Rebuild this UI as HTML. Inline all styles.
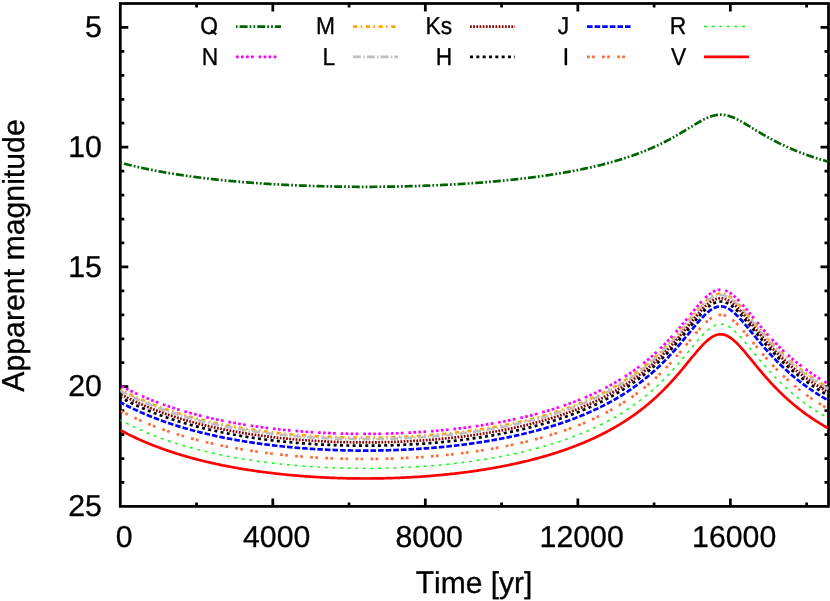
<!DOCTYPE html>
<html><head><meta charset="utf-8"><title>Apparent magnitude vs time</title>
<style>html,body{margin:0;padding:0;background:#fff;}body{width:830px;height:601px;overflow:hidden;}svg{display:block;will-change:transform;}text{text-rendering:geometricPrecision;}</style>
</head><body>
<svg width="830" height="601" viewBox="0 0 830 601">
<rect width="830" height="601" fill="#fff"/>
<g stroke="#000" stroke-width="2.75" fill="none" stroke-linecap="butt">
<rect x="120.30" y="3.50" width="708.20" height="502.90"/>
<path d="M120.30,27.40h8.00M828.50,27.40h-8.00M120.30,51.35h4.00M828.50,51.35h-4.00M120.30,75.30h4.00M828.50,75.30h-4.00M120.30,99.25h4.00M828.50,99.25h-4.00M120.30,123.20h4.00M828.50,123.20h-4.00M120.30,147.15h8.00M828.50,147.15h-8.00M120.30,171.10h4.00M828.50,171.10h-4.00M120.30,195.05h4.00M828.50,195.05h-4.00M120.30,219.00h4.00M828.50,219.00h-4.00M120.30,242.95h4.00M828.50,242.95h-4.00M120.30,266.90h8.00M828.50,266.90h-8.00M120.30,290.85h4.00M828.50,290.85h-4.00M120.30,314.80h4.00M828.50,314.80h-4.00M120.30,338.75h4.00M828.50,338.75h-4.00M120.30,362.70h4.00M828.50,362.70h-4.00M120.30,386.65h8.00M828.50,386.65h-8.00M120.30,410.60h4.00M828.50,410.60h-4.00M120.30,434.55h4.00M828.50,434.55h-4.00M120.30,458.50h4.00M828.50,458.50h-4.00M120.30,482.45h4.00M828.50,482.45h-4.00M196.56,506.40v-4.00M196.56,3.50v4.00M272.82,506.40v-8.00M272.82,3.50v8.00M349.07,506.40v-4.00M349.07,3.50v4.00M425.33,506.40v-8.00M425.33,3.50v8.00M501.59,506.40v-4.00M501.59,3.50v4.00M577.85,506.40v-8.00M577.85,3.50v8.00M654.11,506.40v-4.00M654.11,3.50v4.00M730.36,506.40v-8.00M730.36,3.50v8.00M806.62,506.40v-4.00M806.62,3.50v4.00"/>
</g>
<defs><clipPath id="c"><rect x="120.30" y="0" width="708.20" height="601"/></clipPath></defs>
<g fill="none" clip-path="url(#c)" stroke-linejoin="round">
<path d="M120.30,162.60 L121.31,162.87 L122.32,163.15 L123.34,163.41 L124.35,163.68 L125.36,163.94 L126.37,164.20 L127.38,164.46 L128.39,164.72 L129.41,164.97 L130.42,165.22 L131.43,165.47 L132.44,165.71 L133.45,165.96 L134.46,166.20 L135.48,166.43 L136.49,166.67 L137.50,166.90 L138.51,167.13 L139.52,167.36 L140.53,167.58 L141.55,167.81 L142.56,168.03 L143.57,168.25 L144.58,168.46 L145.59,168.68 L146.60,168.89 L147.62,169.10 L148.63,169.31 L149.64,169.52 L150.65,169.72 L151.66,169.92 L152.67,170.12 L153.69,170.32 L154.70,170.52 L155.71,170.71 L156.72,170.91 L157.73,171.10 L158.75,171.28 L159.76,171.47 L160.77,171.66 L161.78,171.84 L162.79,172.02 L163.80,172.20 L164.82,172.38 L165.83,172.56 L166.84,172.73 L167.85,172.90 L168.86,173.08 L169.87,173.25 L170.89,173.41 L171.90,173.58 L172.91,173.75 L173.92,173.91 L174.93,174.07 L175.94,174.23 L176.96,174.39 L177.97,174.55 L178.98,174.70 L179.99,174.86 L181.00,175.01 L182.01,175.16 L183.03,175.31 L184.04,175.46 L185.05,175.61 L186.06,175.76 L187.07,175.90 L188.08,176.04 L189.10,176.19 L190.11,176.33 L191.12,176.47 L192.13,176.60 L193.14,176.74 L194.16,176.87 L195.17,177.01 L196.18,177.14 L197.19,177.27 L198.20,177.40 L199.21,177.53 L200.23,177.66 L201.24,177.79 L202.25,177.91 L203.26,178.04 L204.27,178.16 L205.28,178.28 L206.30,178.40 L207.31,178.52 L208.32,178.64 L209.33,178.76 L210.34,178.87 L211.35,178.99 L212.37,179.10 L213.38,179.21 L214.39,179.33 L215.40,179.44 L216.41,179.55 L217.42,179.66 L218.44,179.76 L219.45,179.87 L220.46,179.97 L221.47,180.08 L222.48,180.18 L223.49,180.28 L224.51,180.39 L225.52,180.49 L226.53,180.59 L227.54,180.68 L228.55,180.78 L229.57,180.88 L230.58,180.97 L231.59,181.07 L232.60,181.16 L233.61,181.25 L234.62,181.35 L235.64,181.44 L236.65,181.53 L237.66,181.61 L238.67,181.70 L239.68,181.79 L240.69,181.88 L241.71,181.96 L242.72,182.05 L243.73,182.13 L244.74,182.21 L245.75,182.29 L246.76,182.37 L247.78,182.45 L248.79,182.53 L249.80,182.61 L250.81,182.69 L251.82,182.77 L252.83,182.84 L253.85,182.92 L254.86,182.99 L255.87,183.06 L256.88,183.14 L257.89,183.21 L258.90,183.28 L259.92,183.35 L260.93,183.42 L261.94,183.49 L262.95,183.55 L263.96,183.62 L264.98,183.69 L265.99,183.75 L267.00,183.82 L268.01,183.88 L269.02,183.94 L270.03,184.00 L271.05,184.07 L272.06,184.13 L273.07,184.19 L274.08,184.25 L275.09,184.30 L276.10,184.36 L277.12,184.42 L278.13,184.47 L279.14,184.53 L280.15,184.58 L281.16,184.64 L282.17,184.69 L283.19,184.74 L284.20,184.80 L285.21,184.85 L286.22,184.90 L287.23,184.95 L288.24,185.00 L289.26,185.04 L290.27,185.09 L291.28,185.14 L292.29,185.19 L293.30,185.23 L294.31,185.28 L295.33,185.32 L296.34,185.36 L297.35,185.41 L298.36,185.45 L299.37,185.49 L300.39,185.53 L301.40,185.57 L302.41,185.61 L303.42,185.65 L304.43,185.69 L305.44,185.72 L306.46,185.76 L307.47,185.80 L308.48,185.83 L309.49,185.87 L310.50,185.90 L311.51,185.93 L312.53,185.97 L313.54,186.00 L314.55,186.03 L315.56,186.06 L316.57,186.09 L317.58,186.12 L318.60,186.15 L319.61,186.18 L320.62,186.20 L321.63,186.23 L322.64,186.26 L323.65,186.28 L324.67,186.31 L325.68,186.33 L326.69,186.36 L327.70,186.38 L328.71,186.40 L329.72,186.42 L330.74,186.44 L331.75,186.46 L332.76,186.48 L333.77,186.50 L334.78,186.52 L335.80,186.54 L336.81,186.56 L337.82,186.57 L338.83,186.59 L339.84,186.61 L340.85,186.62 L341.87,186.64 L342.88,186.65 L343.89,186.66 L344.90,186.68 L345.91,186.69 L346.92,186.70 L347.94,186.71 L348.95,186.72 L349.96,186.73 L350.97,186.74 L351.98,186.75 L352.99,186.75 L354.01,186.76 L355.02,186.77 L356.03,186.77 L357.04,186.78 L358.05,186.78 L359.06,186.79 L360.08,186.79 L361.09,186.79 L362.10,186.79 L363.11,186.80 L364.12,186.80 L365.13,186.80 L366.15,186.80 L367.16,186.80 L368.17,186.79 L369.18,186.79 L370.19,186.79 L371.21,186.79 L372.22,186.78 L373.23,186.78 L374.24,186.77 L375.25,186.77 L376.26,186.76 L377.28,186.75 L378.29,186.74 L379.30,186.74 L380.31,186.73 L381.32,186.72 L382.33,186.71 L383.35,186.70 L384.36,186.69 L385.37,186.67 L386.38,186.66 L387.39,186.65 L388.40,186.63 L389.42,186.62 L390.43,186.61 L391.44,186.59 L392.45,186.57 L393.46,186.56 L394.47,186.54 L395.49,186.52 L396.50,186.50 L397.51,186.48 L398.52,186.46 L399.53,186.44 L400.54,186.42 L401.56,186.40 L402.57,186.38 L403.58,186.35 L404.59,186.33 L405.60,186.31 L406.62,186.28 L407.63,186.25 L408.64,186.23 L409.65,186.20 L410.66,186.17 L411.67,186.15 L412.69,186.12 L413.70,186.09 L414.71,186.06 L415.72,186.03 L416.73,185.99 L417.74,185.96 L418.76,185.93 L419.77,185.90 L420.78,185.86 L421.79,185.83 L422.80,185.79 L423.81,185.76 L424.83,185.72 L425.84,185.68 L426.85,185.64 L427.86,185.61 L428.87,185.57 L429.88,185.53 L430.90,185.49 L431.91,185.44 L432.92,185.40 L433.93,185.36 L434.94,185.32 L435.95,185.27 L436.97,185.23 L437.98,185.18 L438.99,185.13 L440.00,185.09 L441.01,185.04 L442.03,184.99 L443.04,184.94 L444.05,184.89 L445.06,184.84 L446.07,184.79 L447.08,184.74 L448.10,184.69 L449.11,184.63 L450.12,184.58 L451.13,184.53 L452.14,184.47 L453.15,184.41 L454.17,184.36 L455.18,184.30 L456.19,184.24 L457.20,184.18 L458.21,184.12 L459.22,184.06 L460.24,184.00 L461.25,183.94 L462.26,183.87 L463.27,183.81 L464.28,183.75 L465.29,183.68 L466.31,183.61 L467.32,183.55 L468.33,183.48 L469.34,183.41 L470.35,183.34 L471.36,183.27 L472.38,183.20 L473.39,183.13 L474.40,183.06 L475.41,182.98 L476.42,182.91 L477.44,182.83 L478.45,182.76 L479.46,182.68 L480.47,182.60 L481.48,182.53 L482.49,182.45 L483.51,182.37 L484.52,182.29 L485.53,182.20 L486.54,182.12 L487.55,182.04 L488.56,181.95 L489.58,181.87 L490.59,181.78 L491.60,181.69 L492.61,181.61 L493.62,181.52 L494.63,181.43 L495.65,181.34 L496.66,181.25 L497.67,181.15 L498.68,181.06 L499.69,180.96 L500.70,180.87 L501.72,180.77 L502.73,180.67 L503.74,180.58 L504.75,180.48 L505.76,180.38 L506.77,180.28 L507.79,180.17 L508.80,180.07 L509.81,179.96 L510.82,179.86 L511.83,179.75 L512.85,179.65 L513.86,179.54 L514.87,179.43 L515.88,179.32 L516.89,179.20 L517.90,179.09 L518.92,178.98 L519.93,178.86 L520.94,178.75 L521.95,178.63 L522.96,178.51 L523.97,178.39 L524.99,178.27 L526.00,178.15 L527.01,178.02 L528.02,177.90 L529.03,177.77 L530.04,177.65 L531.06,177.52 L532.07,177.39 L533.08,177.26 L534.09,177.13 L535.10,177.00 L536.11,176.86 L537.13,176.73 L538.14,176.59 L539.15,176.45 L540.16,176.31 L541.17,176.17 L542.18,176.03 L543.20,175.89 L544.21,175.74 L545.22,175.60 L546.23,175.45 L547.24,175.30 L548.26,175.15 L549.27,175.00 L550.28,174.84 L551.29,174.69 L552.30,174.53 L553.31,174.38 L554.33,174.22 L555.34,174.06 L556.35,173.89 L557.36,173.73 L558.37,173.57 L559.38,173.40 L560.40,173.23 L561.41,173.06 L562.42,172.89 L563.43,172.72 L564.44,172.54 L565.45,172.36 L566.47,172.19 L567.48,172.01 L568.49,171.82 L569.50,171.64 L570.51,171.45 L571.52,171.27 L572.54,171.08 L573.55,170.89 L574.56,170.69 L575.57,170.50 L576.58,170.30 L577.59,170.11 L578.61,169.90 L579.62,169.70 L580.63,169.50 L581.64,169.29 L582.65,169.08 L583.67,168.87 L584.68,168.66 L585.69,168.44 L586.70,168.23 L587.71,168.01 L588.72,167.79 L589.74,167.56 L590.75,167.34 L591.76,167.11 L592.77,166.88 L593.78,166.65 L594.79,166.41 L595.81,166.17 L596.82,165.93 L597.83,165.69 L598.84,165.45 L599.85,165.20 L600.86,164.95 L601.88,164.69 L602.89,164.44 L603.90,164.18 L604.91,163.92 L605.92,163.66 L606.93,163.39 L607.95,163.12 L608.96,162.85 L609.97,162.57 L610.98,162.30 L611.99,162.01 L613.00,161.73 L614.02,161.44 L615.03,161.15 L616.04,160.86 L617.05,160.56 L618.06,160.26 L619.08,159.96 L620.09,159.65 L621.10,159.34 L622.11,159.03 L623.12,158.71 L624.13,158.39 L625.15,158.07 L626.16,157.74 L627.17,157.41 L628.18,157.07 L629.19,156.73 L630.20,156.39 L631.22,156.04 L632.23,155.69 L633.24,155.34 L634.25,154.98 L635.26,154.61 L636.27,154.25 L637.29,153.87 L638.30,153.50 L639.31,153.12 L640.32,152.73 L641.33,152.34 L642.34,151.95 L643.36,151.55 L644.37,151.14 L645.38,150.74 L646.39,150.32 L647.40,149.90 L648.41,149.48 L649.43,149.05 L650.44,148.62 L651.45,148.18 L652.46,147.73 L653.47,147.29 L654.49,146.83 L655.50,146.37 L656.51,145.90 L657.52,145.43 L658.53,144.96 L659.54,144.47 L660.56,143.99 L661.57,143.49 L662.58,142.99 L663.59,142.49 L664.60,141.98 L665.61,141.46 L666.63,140.94 L667.64,140.41 L668.65,139.88 L669.66,139.34 L670.67,138.79 L671.68,138.24 L672.70,137.68 L673.71,137.12 L674.72,136.55 L675.73,135.98 L676.74,135.40 L677.75,134.82 L678.77,134.23 L679.78,133.63 L680.79,133.04 L681.80,132.44 L682.81,131.83 L683.82,131.22 L684.84,130.61 L685.85,130.00 L686.86,129.38 L687.87,128.76 L688.88,128.14 L689.90,127.52 L690.91,126.91 L691.92,126.29 L692.93,125.67 L693.94,125.06 L694.95,124.45 L695.97,123.85 L696.98,123.25 L697.99,122.66 L699.00,122.08 L700.01,121.51 L701.02,120.95 L702.04,120.40 L703.05,119.87 L704.06,119.35 L705.07,118.86 L706.08,118.38 L707.09,117.92 L708.11,117.49 L709.12,117.08 L710.13,116.70 L711.14,116.35 L712.15,116.03 L713.16,115.74 L714.18,115.48 L715.19,115.26 L716.20,115.07 L717.21,114.92 L718.22,114.81 L719.23,114.74 L720.25,114.70 L721.26,114.71 L722.27,114.75 L723.28,114.83 L724.29,114.95 L725.31,115.11 L726.32,115.30 L727.33,115.53 L728.34,115.80 L729.35,116.10 L730.36,116.42 L731.38,116.78 L732.39,117.17 L733.40,117.58 L734.41,118.02 L735.42,118.48 L736.43,118.96 L737.45,119.47 L738.46,119.99 L739.47,120.52 L740.48,121.07 L741.49,121.63 L742.50,122.21 L743.52,122.79 L744.53,123.38 L745.54,123.98 L746.55,124.59 L747.56,125.20 L748.57,125.81 L749.59,126.42 L750.60,127.04 L751.61,127.66 L752.62,128.28 L753.63,128.90 L754.64,129.52 L755.66,130.13 L756.67,130.75 L757.68,131.36 L758.69,131.96 L759.70,132.57 L760.72,133.17 L761.73,133.77 L762.74,134.36 L763.75,134.94 L764.76,135.53 L765.77,136.10 L766.79,136.68 L767.80,137.24 L768.81,137.80 L769.82,138.36 L770.83,138.91 L771.84,139.45 L772.86,139.99 L773.87,140.53 L774.88,141.05 L775.89,141.57 L776.90,142.09 L777.91,142.60 L778.93,143.10 L779.94,143.60 L780.95,144.09 L781.96,144.58 L782.97,145.06 L783.98,145.54 L785.00,146.01 L786.01,146.47 L787.02,146.93 L788.03,147.38 L789.04,147.83 L790.05,148.28 L791.07,148.71 L792.08,149.15 L793.09,149.57 L794.10,150.00 L795.11,150.41 L796.13,150.83 L797.14,151.23 L798.15,151.64 L799.16,152.03 L800.17,152.43 L801.18,152.82 L802.20,153.20 L803.21,153.58 L804.22,153.96 L805.23,154.33 L806.24,154.69 L807.25,155.06 L808.27,155.41 L809.28,155.77 L810.29,156.12 L811.30,156.47 L812.31,156.81 L813.32,157.15 L814.34,157.48 L815.35,157.81 L816.36,158.14 L817.37,158.46 L818.38,158.78 L819.39,159.10 L820.41,159.41 L821.42,159.72 L822.43,160.03 L823.44,160.33 L824.45,160.63 L825.46,160.92 L826.48,161.22 L827.49,161.51 L828.50,161.79" stroke="#006400" stroke-width="2.7" stroke-dasharray="8.0 2.05 1.75 2.05 1.75 2.05" stroke-dashoffset="13.8"/>
<path d="M120.30,385.50 L121.31,386.05 L122.32,386.59 L123.34,387.13 L124.35,387.66 L125.36,388.19 L126.37,388.71 L127.38,389.23 L128.39,389.74 L129.41,390.24 L130.42,390.74 L131.43,391.24 L132.44,391.73 L133.45,392.21 L134.46,392.69 L135.48,393.17 L136.49,393.64 L137.50,394.10 L138.51,394.56 L139.52,395.02 L140.53,395.47 L141.55,395.92 L142.56,396.36 L143.57,396.80 L144.58,397.23 L145.59,397.66 L146.60,398.08 L147.62,398.50 L148.63,398.92 L149.64,399.33 L150.65,399.74 L151.66,400.15 L152.67,400.55 L153.69,400.94 L154.70,401.34 L155.71,401.73 L156.72,402.11 L157.73,402.49 L158.75,402.87 L159.76,403.24 L160.77,403.61 L161.78,403.98 L162.79,404.34 L163.80,404.70 L164.82,405.06 L165.83,405.41 L166.84,405.76 L167.85,406.11 L168.86,406.45 L169.87,406.79 L170.89,407.13 L171.90,407.46 L172.91,407.79 L173.92,408.12 L174.93,408.44 L175.94,408.76 L176.96,409.08 L177.97,409.40 L178.98,409.71 L179.99,410.02 L181.00,410.32 L182.01,410.63 L183.03,410.93 L184.04,411.23 L185.05,411.52 L186.06,411.81 L187.07,412.10 L188.08,412.39 L189.10,412.67 L190.11,412.95 L191.12,413.23 L192.13,413.51 L193.14,413.78 L194.16,414.05 L195.17,414.32 L196.18,414.58 L197.19,414.85 L198.20,415.11 L199.21,415.36 L200.23,415.62 L201.24,415.87 L202.25,416.12 L203.26,416.37 L204.27,416.62 L205.28,416.86 L206.30,417.10 L207.31,417.34 L208.32,417.58 L209.33,417.81 L210.34,418.05 L211.35,418.28 L212.37,418.50 L213.38,418.73 L214.39,418.95 L215.40,419.17 L216.41,419.39 L217.42,419.61 L218.44,419.83 L219.45,420.04 L220.46,420.25 L221.47,420.46 L222.48,420.66 L223.49,420.87 L224.51,421.07 L225.52,421.27 L226.53,421.47 L227.54,421.67 L228.55,421.86 L229.57,422.06 L230.58,422.25 L231.59,422.44 L232.60,422.62 L233.61,422.81 L234.62,422.99 L235.64,423.17 L236.65,423.35 L237.66,423.53 L238.67,423.71 L239.68,423.88 L240.69,424.05 L241.71,424.22 L242.72,424.39 L243.73,424.56 L244.74,424.72 L245.75,424.89 L246.76,425.05 L247.78,425.21 L248.79,425.37 L249.80,425.52 L250.81,425.68 L251.82,425.83 L252.83,425.98 L253.85,426.13 L254.86,426.28 L255.87,426.43 L256.88,426.57 L257.89,426.71 L258.90,426.86 L259.92,427.00 L260.93,427.13 L261.94,427.27 L262.95,427.41 L263.96,427.54 L264.98,427.67 L265.99,427.80 L267.00,427.93 L268.01,428.06 L269.02,428.18 L270.03,428.31 L271.05,428.43 L272.06,428.55 L273.07,428.67 L274.08,428.79 L275.09,428.91 L276.10,429.02 L277.12,429.14 L278.13,429.25 L279.14,429.36 L280.15,429.47 L281.16,429.58 L282.17,429.68 L283.19,429.79 L284.20,429.89 L285.21,430.00 L286.22,430.10 L287.23,430.20 L288.24,430.29 L289.26,430.39 L290.27,430.48 L291.28,430.58 L292.29,430.67 L293.30,430.76 L294.31,430.85 L295.33,430.94 L296.34,431.03 L297.35,431.11 L298.36,431.20 L299.37,431.28 L300.39,431.36 L301.40,431.44 L302.41,431.52 L303.42,431.60 L304.43,431.67 L305.44,431.75 L306.46,431.82 L307.47,431.89 L308.48,431.96 L309.49,432.03 L310.50,432.10 L311.51,432.17 L312.53,432.23 L313.54,432.30 L314.55,432.36 L315.56,432.42 L316.57,432.48 L317.58,432.54 L318.60,432.60 L319.61,432.65 L320.62,432.71 L321.63,432.76 L322.64,432.81 L323.65,432.87 L324.67,432.91 L325.68,432.96 L326.69,433.01 L327.70,433.06 L328.71,433.10 L329.72,433.15 L330.74,433.19 L331.75,433.23 L332.76,433.27 L333.77,433.31 L334.78,433.35 L335.80,433.38 L336.81,433.42 L337.82,433.45 L338.83,433.48 L339.84,433.51 L340.85,433.54 L341.87,433.57 L342.88,433.60 L343.89,433.63 L344.90,433.65 L345.91,433.67 L346.92,433.70 L347.94,433.72 L348.95,433.74 L349.96,433.76 L350.97,433.77 L351.98,433.79 L352.99,433.81 L354.01,433.82 L355.02,433.83 L356.03,433.84 L357.04,433.85 L358.05,433.86 L359.06,433.87 L360.08,433.88 L361.09,433.88 L362.10,433.89 L363.11,433.89 L364.12,433.89 L365.13,433.89 L366.15,433.89 L367.16,433.89 L368.17,433.89 L369.18,433.88 L370.19,433.88 L371.21,433.87 L372.22,433.86 L373.23,433.85 L374.24,433.84 L375.25,433.83 L376.26,433.82 L377.28,433.80 L378.29,433.79 L379.30,433.77 L380.31,433.76 L381.32,433.74 L382.33,433.72 L383.35,433.69 L384.36,433.67 L385.37,433.65 L386.38,433.62 L387.39,433.60 L388.40,433.57 L389.42,433.54 L390.43,433.51 L391.44,433.48 L392.45,433.45 L393.46,433.41 L394.47,433.38 L395.49,433.34 L396.50,433.30 L397.51,433.27 L398.52,433.23 L399.53,433.18 L400.54,433.14 L401.56,433.10 L402.57,433.05 L403.58,433.01 L404.59,432.96 L405.60,432.91 L406.62,432.86 L407.63,432.81 L408.64,432.76 L409.65,432.70 L410.66,432.65 L411.67,432.59 L412.69,432.53 L413.70,432.47 L414.71,432.41 L415.72,432.35 L416.73,432.29 L417.74,432.23 L418.76,432.16 L419.77,432.09 L420.78,432.02 L421.79,431.96 L422.80,431.88 L423.81,431.81 L424.83,431.74 L425.84,431.66 L426.85,431.59 L427.86,431.51 L428.87,431.43 L429.88,431.35 L430.90,431.27 L431.91,431.19 L432.92,431.10 L433.93,431.02 L434.94,430.93 L435.95,430.84 L436.97,430.75 L437.98,430.66 L438.99,430.57 L440.00,430.48 L441.01,430.38 L442.03,430.28 L443.04,430.19 L444.05,430.09 L445.06,429.99 L446.07,429.88 L447.08,429.78 L448.10,429.67 L449.11,429.57 L450.12,429.46 L451.13,429.35 L452.14,429.24 L453.15,429.13 L454.17,429.01 L455.18,428.90 L456.19,428.78 L457.20,428.66 L458.21,428.54 L459.22,428.42 L460.24,428.30 L461.25,428.17 L462.26,428.05 L463.27,427.92 L464.28,427.79 L465.29,427.66 L466.31,427.53 L467.32,427.39 L468.33,427.26 L469.34,427.12 L470.35,426.98 L471.36,426.84 L472.38,426.70 L473.39,426.56 L474.40,426.41 L475.41,426.27 L476.42,426.12 L477.44,425.97 L478.45,425.82 L479.46,425.66 L480.47,425.51 L481.48,425.35 L482.49,425.19 L483.51,425.03 L484.52,424.87 L485.53,424.71 L486.54,424.54 L487.55,424.38 L488.56,424.21 L489.58,424.04 L490.59,423.86 L491.60,423.69 L492.61,423.51 L493.62,423.34 L494.63,423.16 L495.65,422.97 L496.66,422.79 L497.67,422.60 L498.68,422.42 L499.69,422.23 L500.70,422.04 L501.72,421.84 L502.73,421.65 L503.74,421.45 L504.75,421.25 L505.76,421.05 L506.77,420.85 L507.79,420.65 L508.80,420.44 L509.81,420.23 L510.82,420.02 L511.83,419.81 L512.85,419.59 L513.86,419.37 L514.87,419.15 L515.88,418.93 L516.89,418.71 L517.90,418.48 L518.92,418.25 L519.93,418.02 L520.94,417.79 L521.95,417.56 L522.96,417.32 L523.97,417.08 L524.99,416.84 L526.00,416.60 L527.01,416.35 L528.02,416.10 L529.03,415.85 L530.04,415.60 L531.06,415.34 L532.07,415.08 L533.08,414.82 L534.09,414.56 L535.10,414.29 L536.11,414.02 L537.13,413.75 L538.14,413.48 L539.15,413.20 L540.16,412.93 L541.17,412.64 L542.18,412.36 L543.20,412.07 L544.21,411.78 L545.22,411.49 L546.23,411.20 L547.24,410.90 L548.26,410.60 L549.27,410.30 L550.28,409.99 L551.29,409.68 L552.30,409.37 L553.31,409.05 L554.33,408.74 L555.34,408.41 L556.35,408.09 L557.36,407.76 L558.37,407.43 L559.38,407.10 L560.40,406.76 L561.41,406.42 L562.42,406.08 L563.43,405.73 L564.44,405.38 L565.45,405.03 L566.47,404.67 L567.48,404.31 L568.49,403.95 L569.50,403.58 L570.51,403.21 L571.52,402.83 L572.54,402.46 L573.55,402.07 L574.56,401.69 L575.57,401.30 L576.58,400.91 L577.59,400.51 L578.61,400.11 L579.62,399.70 L580.63,399.30 L581.64,398.88 L582.65,398.47 L583.67,398.04 L584.68,397.62 L585.69,397.19 L586.70,396.76 L587.71,396.32 L588.72,395.87 L589.74,395.43 L590.75,394.98 L591.76,394.52 L592.77,394.06 L593.78,393.59 L594.79,393.12 L595.81,392.65 L596.82,392.17 L597.83,391.68 L598.84,391.19 L599.85,390.70 L600.86,390.19 L601.88,389.69 L602.89,389.18 L603.90,388.66 L604.91,388.14 L605.92,387.61 L606.93,387.08 L607.95,386.54 L608.96,386.00 L609.97,385.45 L610.98,384.89 L611.99,384.33 L613.00,383.76 L614.02,383.19 L615.03,382.60 L616.04,382.02 L617.05,381.42 L618.06,380.82 L619.08,380.22 L620.09,379.60 L621.10,378.98 L622.11,378.36 L623.12,377.72 L624.13,377.08 L625.15,376.43 L626.16,375.78 L627.17,375.11 L628.18,374.44 L629.19,373.76 L630.20,373.08 L631.22,372.38 L632.23,371.68 L633.24,370.97 L634.25,370.25 L635.26,369.53 L636.27,368.79 L637.29,368.05 L638.30,367.29 L639.31,366.53 L640.32,365.76 L641.33,364.98 L642.34,364.19 L643.36,363.40 L644.37,362.59 L645.38,361.77 L646.39,360.94 L647.40,360.11 L648.41,359.26 L649.43,358.40 L650.44,357.54 L651.45,356.66 L652.46,355.77 L653.47,354.87 L654.49,353.96 L655.50,353.04 L656.51,352.11 L657.52,351.17 L658.53,350.21 L659.54,349.25 L660.56,348.27 L661.57,347.29 L662.58,346.29 L663.59,345.28 L664.60,344.25 L665.61,343.22 L666.63,342.18 L667.64,341.12 L668.65,340.05 L669.66,338.97 L670.67,337.88 L671.68,336.78 L672.70,335.66 L673.71,334.54 L674.72,333.40 L675.73,332.26 L676.74,331.10 L677.75,329.93 L678.77,328.76 L679.78,327.57 L680.79,326.38 L681.80,325.17 L682.81,323.96 L683.82,322.75 L684.84,321.52 L685.85,320.29 L686.86,319.06 L687.87,317.83 L688.88,316.59 L689.90,315.35 L690.91,314.11 L691.92,312.88 L692.93,311.65 L693.94,310.42 L694.95,309.20 L695.97,308.00 L696.98,306.80 L697.99,305.62 L699.00,304.46 L700.01,303.32 L701.02,302.20 L702.04,301.10 L703.05,300.04 L704.06,299.01 L705.07,298.01 L706.08,297.06 L707.09,296.14 L708.11,295.28 L709.12,294.46 L710.13,293.70 L711.14,293.00 L712.15,292.35 L713.16,291.77 L714.18,291.26 L715.19,290.82 L716.20,290.44 L717.21,290.15 L718.22,289.92 L719.23,289.78 L720.25,289.71 L721.26,289.71 L722.27,289.80 L723.28,289.96 L724.29,290.20 L725.31,290.52 L726.32,290.91 L727.33,291.37 L728.34,291.90 L729.35,292.49 L730.36,293.15 L731.38,293.86 L732.39,294.64 L733.40,295.47 L734.41,296.34 L735.42,297.26 L736.43,298.23 L737.45,299.23 L738.46,300.27 L739.47,301.34 L740.48,302.44 L741.49,303.57 L742.50,304.71 L743.52,305.88 L744.53,307.06 L745.54,308.26 L746.55,309.47 L747.56,310.69 L748.57,311.92 L749.59,313.15 L750.60,314.38 L751.61,315.62 L752.62,316.86 L753.63,318.10 L754.64,319.33 L755.66,320.56 L756.67,321.79 L757.68,323.01 L758.69,324.23 L759.70,325.44 L760.72,326.64 L761.73,327.83 L762.74,329.02 L763.75,330.19 L764.76,331.35 L765.77,332.51 L766.79,333.65 L767.80,334.79 L768.81,335.91 L769.82,337.02 L770.83,338.12 L771.84,339.21 L772.86,340.29 L773.87,341.35 L774.88,342.41 L775.89,343.45 L776.90,344.48 L777.91,345.50 L778.93,346.51 L779.94,347.50 L780.95,348.49 L781.96,349.46 L782.97,350.42 L783.98,351.38 L785.00,352.32 L786.01,353.24 L787.02,354.16 L788.03,355.07 L789.04,355.97 L790.05,356.85 L791.07,357.73 L792.08,358.59 L793.09,359.45 L794.10,360.29 L795.11,361.13 L796.13,361.95 L797.14,362.77 L798.15,363.57 L799.16,364.37 L800.17,365.16 L801.18,365.93 L802.20,366.70 L803.21,367.46 L804.22,368.21 L805.23,368.95 L806.24,369.69 L807.25,370.41 L808.27,371.13 L809.28,371.84 L810.29,372.54 L811.30,373.23 L812.31,373.91 L813.32,374.59 L814.34,375.26 L815.35,375.92 L816.36,376.58 L817.37,377.22 L818.38,377.86 L819.39,378.50 L820.41,379.12 L821.42,379.74 L822.43,380.35 L823.44,380.96 L824.45,381.56 L825.46,382.15 L826.48,382.73 L827.49,383.31 L828.50,383.89" stroke="#ff00ff" stroke-width="2.7" stroke-dasharray="2.7 2.3 2.7 2.3 2.7 2.3 2.7 4.9" stroke-dashoffset="21.15"/>
<path d="M120.30,389.30 L121.31,389.85 L122.32,390.39 L123.34,390.93 L124.35,391.46 L125.36,391.99 L126.37,392.51 L127.38,393.03 L128.39,393.54 L129.41,394.04 L130.42,394.54 L131.43,395.04 L132.44,395.53 L133.45,396.01 L134.46,396.49 L135.48,396.97 L136.49,397.44 L137.50,397.90 L138.51,398.36 L139.52,398.82 L140.53,399.27 L141.55,399.72 L142.56,400.16 L143.57,400.60 L144.58,401.03 L145.59,401.46 L146.60,401.88 L147.62,402.30 L148.63,402.72 L149.64,403.13 L150.65,403.54 L151.66,403.95 L152.67,404.35 L153.69,404.74 L154.70,405.14 L155.71,405.53 L156.72,405.91 L157.73,406.29 L158.75,406.67 L159.76,407.04 L160.77,407.41 L161.78,407.78 L162.79,408.14 L163.80,408.50 L164.82,408.86 L165.83,409.21 L166.84,409.56 L167.85,409.91 L168.86,410.25 L169.87,410.59 L170.89,410.93 L171.90,411.26 L172.91,411.59 L173.92,411.92 L174.93,412.24 L175.94,412.56 L176.96,412.88 L177.97,413.20 L178.98,413.51 L179.99,413.82 L181.00,414.12 L182.01,414.43 L183.03,414.73 L184.04,415.03 L185.05,415.32 L186.06,415.61 L187.07,415.90 L188.08,416.19 L189.10,416.47 L190.11,416.75 L191.12,417.03 L192.13,417.31 L193.14,417.58 L194.16,417.85 L195.17,418.12 L196.18,418.38 L197.19,418.65 L198.20,418.91 L199.21,419.16 L200.23,419.42 L201.24,419.67 L202.25,419.92 L203.26,420.17 L204.27,420.42 L205.28,420.66 L206.30,420.90 L207.31,421.14 L208.32,421.38 L209.33,421.61 L210.34,421.85 L211.35,422.08 L212.37,422.30 L213.38,422.53 L214.39,422.75 L215.40,422.97 L216.41,423.19 L217.42,423.41 L218.44,423.63 L219.45,423.84 L220.46,424.05 L221.47,424.26 L222.48,424.46 L223.49,424.67 L224.51,424.87 L225.52,425.07 L226.53,425.27 L227.54,425.47 L228.55,425.66 L229.57,425.86 L230.58,426.05 L231.59,426.24 L232.60,426.42 L233.61,426.61 L234.62,426.79 L235.64,426.97 L236.65,427.15 L237.66,427.33 L238.67,427.51 L239.68,427.68 L240.69,427.85 L241.71,428.02 L242.72,428.19 L243.73,428.36 L244.74,428.52 L245.75,428.69 L246.76,428.85 L247.78,429.01 L248.79,429.17 L249.80,429.32 L250.81,429.48 L251.82,429.63 L252.83,429.78 L253.85,429.93 L254.86,430.08 L255.87,430.23 L256.88,430.37 L257.89,430.51 L258.90,430.66 L259.92,430.80 L260.93,430.93 L261.94,431.07 L262.95,431.21 L263.96,431.34 L264.98,431.47 L265.99,431.60 L267.00,431.73 L268.01,431.86 L269.02,431.98 L270.03,432.11 L271.05,432.23 L272.06,432.35 L273.07,432.47 L274.08,432.59 L275.09,432.71 L276.10,432.82 L277.12,432.94 L278.13,433.05 L279.14,433.16 L280.15,433.27 L281.16,433.38 L282.17,433.48 L283.19,433.59 L284.20,433.69 L285.21,433.80 L286.22,433.90 L287.23,434.00 L288.24,434.09 L289.26,434.19 L290.27,434.28 L291.28,434.38 L292.29,434.47 L293.30,434.56 L294.31,434.65 L295.33,434.74 L296.34,434.83 L297.35,434.91 L298.36,435.00 L299.37,435.08 L300.39,435.16 L301.40,435.24 L302.41,435.32 L303.42,435.40 L304.43,435.47 L305.44,435.55 L306.46,435.62 L307.47,435.69 L308.48,435.76 L309.49,435.83 L310.50,435.90 L311.51,435.97 L312.53,436.03 L313.54,436.10 L314.55,436.16 L315.56,436.22 L316.57,436.28 L317.58,436.34 L318.60,436.40 L319.61,436.45 L320.62,436.51 L321.63,436.56 L322.64,436.61 L323.65,436.67 L324.67,436.71 L325.68,436.76 L326.69,436.81 L327.70,436.86 L328.71,436.90 L329.72,436.95 L330.74,436.99 L331.75,437.03 L332.76,437.07 L333.77,437.11 L334.78,437.15 L335.80,437.18 L336.81,437.22 L337.82,437.25 L338.83,437.28 L339.84,437.31 L340.85,437.34 L341.87,437.37 L342.88,437.40 L343.89,437.43 L344.90,437.45 L345.91,437.47 L346.92,437.50 L347.94,437.52 L348.95,437.54 L349.96,437.56 L350.97,437.57 L351.98,437.59 L352.99,437.61 L354.01,437.62 L355.02,437.63 L356.03,437.64 L357.04,437.65 L358.05,437.66 L359.06,437.67 L360.08,437.68 L361.09,437.68 L362.10,437.69 L363.11,437.69 L364.12,437.69 L365.13,437.69 L366.15,437.69 L367.16,437.69 L368.17,437.69 L369.18,437.68 L370.19,437.68 L371.21,437.67 L372.22,437.66 L373.23,437.65 L374.24,437.64 L375.25,437.63 L376.26,437.62 L377.28,437.60 L378.29,437.59 L379.30,437.57 L380.31,437.56 L381.32,437.54 L382.33,437.52 L383.35,437.49 L384.36,437.47 L385.37,437.45 L386.38,437.42 L387.39,437.40 L388.40,437.37 L389.42,437.34 L390.43,437.31 L391.44,437.28 L392.45,437.25 L393.46,437.21 L394.47,437.18 L395.49,437.14 L396.50,437.10 L397.51,437.07 L398.52,437.03 L399.53,436.98 L400.54,436.94 L401.56,436.90 L402.57,436.85 L403.58,436.81 L404.59,436.76 L405.60,436.71 L406.62,436.66 L407.63,436.61 L408.64,436.56 L409.65,436.50 L410.66,436.45 L411.67,436.39 L412.69,436.33 L413.70,436.27 L414.71,436.21 L415.72,436.15 L416.73,436.09 L417.74,436.03 L418.76,435.96 L419.77,435.89 L420.78,435.82 L421.79,435.76 L422.80,435.68 L423.81,435.61 L424.83,435.54 L425.84,435.46 L426.85,435.39 L427.86,435.31 L428.87,435.23 L429.88,435.15 L430.90,435.07 L431.91,434.99 L432.92,434.90 L433.93,434.82 L434.94,434.73 L435.95,434.64 L436.97,434.55 L437.98,434.46 L438.99,434.37 L440.00,434.28 L441.01,434.18 L442.03,434.08 L443.04,433.99 L444.05,433.89 L445.06,433.79 L446.07,433.68 L447.08,433.58 L448.10,433.47 L449.11,433.37 L450.12,433.26 L451.13,433.15 L452.14,433.04 L453.15,432.93 L454.17,432.81 L455.18,432.70 L456.19,432.58 L457.20,432.46 L458.21,432.34 L459.22,432.22 L460.24,432.10 L461.25,431.97 L462.26,431.85 L463.27,431.72 L464.28,431.59 L465.29,431.46 L466.31,431.33 L467.32,431.19 L468.33,431.06 L469.34,430.92 L470.35,430.78 L471.36,430.64 L472.38,430.50 L473.39,430.36 L474.40,430.21 L475.41,430.07 L476.42,429.92 L477.44,429.77 L478.45,429.62 L479.46,429.46 L480.47,429.31 L481.48,429.15 L482.49,428.99 L483.51,428.83 L484.52,428.67 L485.53,428.51 L486.54,428.34 L487.55,428.18 L488.56,428.01 L489.58,427.84 L490.59,427.66 L491.60,427.49 L492.61,427.31 L493.62,427.14 L494.63,426.96 L495.65,426.77 L496.66,426.59 L497.67,426.40 L498.68,426.22 L499.69,426.03 L500.70,425.84 L501.72,425.64 L502.73,425.45 L503.74,425.25 L504.75,425.05 L505.76,424.85 L506.77,424.65 L507.79,424.45 L508.80,424.24 L509.81,424.03 L510.82,423.82 L511.83,423.61 L512.85,423.39 L513.86,423.17 L514.87,422.95 L515.88,422.73 L516.89,422.51 L517.90,422.28 L518.92,422.05 L519.93,421.82 L520.94,421.59 L521.95,421.36 L522.96,421.12 L523.97,420.88 L524.99,420.64 L526.00,420.40 L527.01,420.15 L528.02,419.90 L529.03,419.65 L530.04,419.40 L531.06,419.14 L532.07,418.88 L533.08,418.62 L534.09,418.36 L535.10,418.09 L536.11,417.82 L537.13,417.55 L538.14,417.28 L539.15,417.00 L540.16,416.73 L541.17,416.44 L542.18,416.16 L543.20,415.87 L544.21,415.58 L545.22,415.29 L546.23,415.00 L547.24,414.70 L548.26,414.40 L549.27,414.10 L550.28,413.79 L551.29,413.48 L552.30,413.17 L553.31,412.85 L554.33,412.54 L555.34,412.21 L556.35,411.89 L557.36,411.56 L558.37,411.23 L559.38,410.90 L560.40,410.56 L561.41,410.22 L562.42,409.88 L563.43,409.53 L564.44,409.18 L565.45,408.83 L566.47,408.47 L567.48,408.11 L568.49,407.75 L569.50,407.38 L570.51,407.01 L571.52,406.63 L572.54,406.26 L573.55,405.87 L574.56,405.49 L575.57,405.10 L576.58,404.71 L577.59,404.31 L578.61,403.91 L579.62,403.50 L580.63,403.10 L581.64,402.68 L582.65,402.27 L583.67,401.84 L584.68,401.42 L585.69,400.99 L586.70,400.56 L587.71,400.12 L588.72,399.67 L589.74,399.23 L590.75,398.78 L591.76,398.32 L592.77,397.86 L593.78,397.39 L594.79,396.92 L595.81,396.45 L596.82,395.97 L597.83,395.48 L598.84,394.99 L599.85,394.50 L600.86,393.99 L601.88,393.49 L602.89,392.98 L603.90,392.46 L604.91,391.94 L605.92,391.41 L606.93,390.88 L607.95,390.34 L608.96,389.80 L609.97,389.25 L610.98,388.69 L611.99,388.13 L613.00,387.56 L614.02,386.99 L615.03,386.40 L616.04,385.82 L617.05,385.22 L618.06,384.62 L619.08,384.02 L620.09,383.40 L621.10,382.78 L622.11,382.16 L623.12,381.52 L624.13,380.88 L625.15,380.23 L626.16,379.58 L627.17,378.91 L628.18,378.24 L629.19,377.56 L630.20,376.88 L631.22,376.18 L632.23,375.48 L633.24,374.77 L634.25,374.05 L635.26,373.33 L636.27,372.59 L637.29,371.85 L638.30,371.09 L639.31,370.33 L640.32,369.56 L641.33,368.78 L642.34,367.99 L643.36,367.20 L644.37,366.39 L645.38,365.57 L646.39,364.74 L647.40,363.91 L648.41,363.06 L649.43,362.20 L650.44,361.34 L651.45,360.46 L652.46,359.57 L653.47,358.67 L654.49,357.76 L655.50,356.84 L656.51,355.91 L657.52,354.97 L658.53,354.01 L659.54,353.05 L660.56,352.07 L661.57,351.09 L662.58,350.09 L663.59,349.08 L664.60,348.05 L665.61,347.02 L666.63,345.98 L667.64,344.92 L668.65,343.85 L669.66,342.77 L670.67,341.68 L671.68,340.58 L672.70,339.46 L673.71,338.34 L674.72,337.20 L675.73,336.06 L676.74,334.90 L677.75,333.73 L678.77,332.56 L679.78,331.37 L680.79,330.18 L681.80,328.97 L682.81,327.76 L683.82,326.55 L684.84,325.32 L685.85,324.09 L686.86,322.86 L687.87,321.63 L688.88,320.39 L689.90,319.15 L690.91,317.91 L691.92,316.68 L692.93,315.45 L693.94,314.22 L694.95,313.00 L695.97,311.80 L696.98,310.60 L697.99,309.42 L699.00,308.26 L700.01,307.12 L701.02,306.00 L702.04,304.90 L703.05,303.84 L704.06,302.81 L705.07,301.81 L706.08,300.86 L707.09,299.94 L708.11,299.08 L709.12,298.26 L710.13,297.50 L711.14,296.80 L712.15,296.15 L713.16,295.57 L714.18,295.06 L715.19,294.62 L716.20,294.24 L717.21,293.95 L718.22,293.72 L719.23,293.58 L720.25,293.51 L721.26,293.51 L722.27,293.60 L723.28,293.76 L724.29,294.00 L725.31,294.32 L726.32,294.71 L727.33,295.17 L728.34,295.70 L729.35,296.29 L730.36,296.95 L731.38,297.66 L732.39,298.44 L733.40,299.27 L734.41,300.14 L735.42,301.06 L736.43,302.03 L737.45,303.03 L738.46,304.07 L739.47,305.14 L740.48,306.24 L741.49,307.37 L742.50,308.51 L743.52,309.68 L744.53,310.86 L745.54,312.06 L746.55,313.27 L747.56,314.49 L748.57,315.72 L749.59,316.95 L750.60,318.18 L751.61,319.42 L752.62,320.66 L753.63,321.90 L754.64,323.13 L755.66,324.36 L756.67,325.59 L757.68,326.81 L758.69,328.03 L759.70,329.24 L760.72,330.44 L761.73,331.63 L762.74,332.82 L763.75,333.99 L764.76,335.15 L765.77,336.31 L766.79,337.45 L767.80,338.59 L768.81,339.71 L769.82,340.82 L770.83,341.92 L771.84,343.01 L772.86,344.09 L773.87,345.15 L774.88,346.21 L775.89,347.25 L776.90,348.28 L777.91,349.30 L778.93,350.31 L779.94,351.30 L780.95,352.29 L781.96,353.26 L782.97,354.22 L783.98,355.18 L785.00,356.12 L786.01,357.04 L787.02,357.96 L788.03,358.87 L789.04,359.77 L790.05,360.65 L791.07,361.53 L792.08,362.39 L793.09,363.25 L794.10,364.09 L795.11,364.93 L796.13,365.75 L797.14,366.57 L798.15,367.37 L799.16,368.17 L800.17,368.96 L801.18,369.73 L802.20,370.50 L803.21,371.26 L804.22,372.01 L805.23,372.75 L806.24,373.49 L807.25,374.21 L808.27,374.93 L809.28,375.64 L810.29,376.34 L811.30,377.03 L812.31,377.71 L813.32,378.39 L814.34,379.06 L815.35,379.72 L816.36,380.38 L817.37,381.02 L818.38,381.66 L819.39,382.30 L820.41,382.92 L821.42,383.54 L822.43,384.15 L823.44,384.76 L824.45,385.36 L825.46,385.95 L826.48,386.53 L827.49,387.11 L828.50,387.69" stroke="#ffa500" stroke-width="2.7" stroke-dasharray="4.2 3.5 1.6 3.45" stroke-dashoffset="2.5"/>
<path d="M120.30,390.70 L121.31,391.25 L122.32,391.79 L123.34,392.33 L124.35,392.86 L125.36,393.39 L126.37,393.91 L127.38,394.43 L128.39,394.94 L129.41,395.44 L130.42,395.94 L131.43,396.44 L132.44,396.93 L133.45,397.41 L134.46,397.89 L135.48,398.37 L136.49,398.84 L137.50,399.30 L138.51,399.76 L139.52,400.22 L140.53,400.67 L141.55,401.12 L142.56,401.56 L143.57,402.00 L144.58,402.43 L145.59,402.86 L146.60,403.28 L147.62,403.70 L148.63,404.12 L149.64,404.53 L150.65,404.94 L151.66,405.35 L152.67,405.75 L153.69,406.14 L154.70,406.54 L155.71,406.93 L156.72,407.31 L157.73,407.69 L158.75,408.07 L159.76,408.44 L160.77,408.81 L161.78,409.18 L162.79,409.54 L163.80,409.90 L164.82,410.26 L165.83,410.61 L166.84,410.96 L167.85,411.31 L168.86,411.65 L169.87,411.99 L170.89,412.33 L171.90,412.66 L172.91,412.99 L173.92,413.32 L174.93,413.64 L175.94,413.96 L176.96,414.28 L177.97,414.60 L178.98,414.91 L179.99,415.22 L181.00,415.52 L182.01,415.83 L183.03,416.13 L184.04,416.43 L185.05,416.72 L186.06,417.01 L187.07,417.30 L188.08,417.59 L189.10,417.87 L190.11,418.15 L191.12,418.43 L192.13,418.71 L193.14,418.98 L194.16,419.25 L195.17,419.52 L196.18,419.78 L197.19,420.05 L198.20,420.31 L199.21,420.56 L200.23,420.82 L201.24,421.07 L202.25,421.32 L203.26,421.57 L204.27,421.82 L205.28,422.06 L206.30,422.30 L207.31,422.54 L208.32,422.78 L209.33,423.01 L210.34,423.25 L211.35,423.48 L212.37,423.70 L213.38,423.93 L214.39,424.15 L215.40,424.37 L216.41,424.59 L217.42,424.81 L218.44,425.03 L219.45,425.24 L220.46,425.45 L221.47,425.66 L222.48,425.86 L223.49,426.07 L224.51,426.27 L225.52,426.47 L226.53,426.67 L227.54,426.87 L228.55,427.06 L229.57,427.26 L230.58,427.45 L231.59,427.64 L232.60,427.82 L233.61,428.01 L234.62,428.19 L235.64,428.37 L236.65,428.55 L237.66,428.73 L238.67,428.91 L239.68,429.08 L240.69,429.25 L241.71,429.42 L242.72,429.59 L243.73,429.76 L244.74,429.92 L245.75,430.09 L246.76,430.25 L247.78,430.41 L248.79,430.57 L249.80,430.72 L250.81,430.88 L251.82,431.03 L252.83,431.18 L253.85,431.33 L254.86,431.48 L255.87,431.63 L256.88,431.77 L257.89,431.91 L258.90,432.06 L259.92,432.20 L260.93,432.33 L261.94,432.47 L262.95,432.61 L263.96,432.74 L264.98,432.87 L265.99,433.00 L267.00,433.13 L268.01,433.26 L269.02,433.38 L270.03,433.51 L271.05,433.63 L272.06,433.75 L273.07,433.87 L274.08,433.99 L275.09,434.11 L276.10,434.22 L277.12,434.34 L278.13,434.45 L279.14,434.56 L280.15,434.67 L281.16,434.78 L282.17,434.88 L283.19,434.99 L284.20,435.09 L285.21,435.20 L286.22,435.30 L287.23,435.40 L288.24,435.49 L289.26,435.59 L290.27,435.68 L291.28,435.78 L292.29,435.87 L293.30,435.96 L294.31,436.05 L295.33,436.14 L296.34,436.23 L297.35,436.31 L298.36,436.40 L299.37,436.48 L300.39,436.56 L301.40,436.64 L302.41,436.72 L303.42,436.80 L304.43,436.87 L305.44,436.95 L306.46,437.02 L307.47,437.09 L308.48,437.16 L309.49,437.23 L310.50,437.30 L311.51,437.37 L312.53,437.43 L313.54,437.50 L314.55,437.56 L315.56,437.62 L316.57,437.68 L317.58,437.74 L318.60,437.80 L319.61,437.85 L320.62,437.91 L321.63,437.96 L322.64,438.01 L323.65,438.07 L324.67,438.11 L325.68,438.16 L326.69,438.21 L327.70,438.26 L328.71,438.30 L329.72,438.35 L330.74,438.39 L331.75,438.43 L332.76,438.47 L333.77,438.51 L334.78,438.55 L335.80,438.58 L336.81,438.62 L337.82,438.65 L338.83,438.68 L339.84,438.71 L340.85,438.74 L341.87,438.77 L342.88,438.80 L343.89,438.83 L344.90,438.85 L345.91,438.87 L346.92,438.90 L347.94,438.92 L348.95,438.94 L349.96,438.96 L350.97,438.97 L351.98,438.99 L352.99,439.01 L354.01,439.02 L355.02,439.03 L356.03,439.04 L357.04,439.05 L358.05,439.06 L359.06,439.07 L360.08,439.08 L361.09,439.08 L362.10,439.09 L363.11,439.09 L364.12,439.09 L365.13,439.09 L366.15,439.09 L367.16,439.09 L368.17,439.09 L369.18,439.08 L370.19,439.08 L371.21,439.07 L372.22,439.06 L373.23,439.05 L374.24,439.04 L375.25,439.03 L376.26,439.02 L377.28,439.00 L378.29,438.99 L379.30,438.97 L380.31,438.96 L381.32,438.94 L382.33,438.92 L383.35,438.89 L384.36,438.87 L385.37,438.85 L386.38,438.82 L387.39,438.80 L388.40,438.77 L389.42,438.74 L390.43,438.71 L391.44,438.68 L392.45,438.65 L393.46,438.61 L394.47,438.58 L395.49,438.54 L396.50,438.50 L397.51,438.47 L398.52,438.43 L399.53,438.38 L400.54,438.34 L401.56,438.30 L402.57,438.25 L403.58,438.21 L404.59,438.16 L405.60,438.11 L406.62,438.06 L407.63,438.01 L408.64,437.96 L409.65,437.90 L410.66,437.85 L411.67,437.79 L412.69,437.73 L413.70,437.67 L414.71,437.61 L415.72,437.55 L416.73,437.49 L417.74,437.43 L418.76,437.36 L419.77,437.29 L420.78,437.22 L421.79,437.16 L422.80,437.08 L423.81,437.01 L424.83,436.94 L425.84,436.86 L426.85,436.79 L427.86,436.71 L428.87,436.63 L429.88,436.55 L430.90,436.47 L431.91,436.39 L432.92,436.30 L433.93,436.22 L434.94,436.13 L435.95,436.04 L436.97,435.95 L437.98,435.86 L438.99,435.77 L440.00,435.68 L441.01,435.58 L442.03,435.48 L443.04,435.39 L444.05,435.29 L445.06,435.19 L446.07,435.08 L447.08,434.98 L448.10,434.87 L449.11,434.77 L450.12,434.66 L451.13,434.55 L452.14,434.44 L453.15,434.33 L454.17,434.21 L455.18,434.10 L456.19,433.98 L457.20,433.86 L458.21,433.74 L459.22,433.62 L460.24,433.50 L461.25,433.37 L462.26,433.25 L463.27,433.12 L464.28,432.99 L465.29,432.86 L466.31,432.73 L467.32,432.59 L468.33,432.46 L469.34,432.32 L470.35,432.18 L471.36,432.04 L472.38,431.90 L473.39,431.76 L474.40,431.61 L475.41,431.47 L476.42,431.32 L477.44,431.17 L478.45,431.02 L479.46,430.86 L480.47,430.71 L481.48,430.55 L482.49,430.39 L483.51,430.23 L484.52,430.07 L485.53,429.91 L486.54,429.74 L487.55,429.58 L488.56,429.41 L489.58,429.24 L490.59,429.06 L491.60,428.89 L492.61,428.71 L493.62,428.54 L494.63,428.36 L495.65,428.17 L496.66,427.99 L497.67,427.80 L498.68,427.62 L499.69,427.43 L500.70,427.24 L501.72,427.04 L502.73,426.85 L503.74,426.65 L504.75,426.45 L505.76,426.25 L506.77,426.05 L507.79,425.85 L508.80,425.64 L509.81,425.43 L510.82,425.22 L511.83,425.01 L512.85,424.79 L513.86,424.57 L514.87,424.35 L515.88,424.13 L516.89,423.91 L517.90,423.68 L518.92,423.45 L519.93,423.22 L520.94,422.99 L521.95,422.76 L522.96,422.52 L523.97,422.28 L524.99,422.04 L526.00,421.80 L527.01,421.55 L528.02,421.30 L529.03,421.05 L530.04,420.80 L531.06,420.54 L532.07,420.28 L533.08,420.02 L534.09,419.76 L535.10,419.49 L536.11,419.22 L537.13,418.95 L538.14,418.68 L539.15,418.40 L540.16,418.13 L541.17,417.84 L542.18,417.56 L543.20,417.27 L544.21,416.98 L545.22,416.69 L546.23,416.40 L547.24,416.10 L548.26,415.80 L549.27,415.50 L550.28,415.19 L551.29,414.88 L552.30,414.57 L553.31,414.25 L554.33,413.94 L555.34,413.61 L556.35,413.29 L557.36,412.96 L558.37,412.63 L559.38,412.30 L560.40,411.96 L561.41,411.62 L562.42,411.28 L563.43,410.93 L564.44,410.58 L565.45,410.23 L566.47,409.87 L567.48,409.51 L568.49,409.15 L569.50,408.78 L570.51,408.41 L571.52,408.03 L572.54,407.66 L573.55,407.27 L574.56,406.89 L575.57,406.50 L576.58,406.11 L577.59,405.71 L578.61,405.31 L579.62,404.90 L580.63,404.50 L581.64,404.08 L582.65,403.67 L583.67,403.24 L584.68,402.82 L585.69,402.39 L586.70,401.96 L587.71,401.52 L588.72,401.07 L589.74,400.63 L590.75,400.18 L591.76,399.72 L592.77,399.26 L593.78,398.79 L594.79,398.32 L595.81,397.85 L596.82,397.37 L597.83,396.88 L598.84,396.39 L599.85,395.90 L600.86,395.39 L601.88,394.89 L602.89,394.38 L603.90,393.86 L604.91,393.34 L605.92,392.81 L606.93,392.28 L607.95,391.74 L608.96,391.20 L609.97,390.65 L610.98,390.09 L611.99,389.53 L613.00,388.96 L614.02,388.39 L615.03,387.80 L616.04,387.22 L617.05,386.62 L618.06,386.02 L619.08,385.42 L620.09,384.80 L621.10,384.18 L622.11,383.56 L623.12,382.92 L624.13,382.28 L625.15,381.63 L626.16,380.98 L627.17,380.31 L628.18,379.64 L629.19,378.96 L630.20,378.28 L631.22,377.58 L632.23,376.88 L633.24,376.17 L634.25,375.45 L635.26,374.73 L636.27,373.99 L637.29,373.25 L638.30,372.49 L639.31,371.73 L640.32,370.96 L641.33,370.18 L642.34,369.39 L643.36,368.60 L644.37,367.79 L645.38,366.97 L646.39,366.14 L647.40,365.31 L648.41,364.46 L649.43,363.60 L650.44,362.74 L651.45,361.86 L652.46,360.97 L653.47,360.07 L654.49,359.16 L655.50,358.24 L656.51,357.31 L657.52,356.37 L658.53,355.41 L659.54,354.45 L660.56,353.47 L661.57,352.49 L662.58,351.49 L663.59,350.48 L664.60,349.45 L665.61,348.42 L666.63,347.38 L667.64,346.32 L668.65,345.25 L669.66,344.17 L670.67,343.08 L671.68,341.98 L672.70,340.86 L673.71,339.74 L674.72,338.60 L675.73,337.46 L676.74,336.30 L677.75,335.13 L678.77,333.96 L679.78,332.77 L680.79,331.58 L681.80,330.37 L682.81,329.16 L683.82,327.95 L684.84,326.72 L685.85,325.49 L686.86,324.26 L687.87,323.03 L688.88,321.79 L689.90,320.55 L690.91,319.31 L691.92,318.08 L692.93,316.85 L693.94,315.62 L694.95,314.40 L695.97,313.20 L696.98,312.00 L697.99,310.82 L699.00,309.66 L700.01,308.52 L701.02,307.40 L702.04,306.30 L703.05,305.24 L704.06,304.21 L705.07,303.21 L706.08,302.26 L707.09,301.34 L708.11,300.48 L709.12,299.66 L710.13,298.90 L711.14,298.20 L712.15,297.55 L713.16,296.97 L714.18,296.46 L715.19,296.02 L716.20,295.64 L717.21,295.35 L718.22,295.12 L719.23,294.98 L720.25,294.91 L721.26,294.91 L722.27,295.00 L723.28,295.16 L724.29,295.40 L725.31,295.72 L726.32,296.11 L727.33,296.57 L728.34,297.10 L729.35,297.69 L730.36,298.35 L731.38,299.06 L732.39,299.84 L733.40,300.67 L734.41,301.54 L735.42,302.46 L736.43,303.43 L737.45,304.43 L738.46,305.47 L739.47,306.54 L740.48,307.64 L741.49,308.77 L742.50,309.91 L743.52,311.08 L744.53,312.26 L745.54,313.46 L746.55,314.67 L747.56,315.89 L748.57,317.12 L749.59,318.35 L750.60,319.58 L751.61,320.82 L752.62,322.06 L753.63,323.30 L754.64,324.53 L755.66,325.76 L756.67,326.99 L757.68,328.21 L758.69,329.43 L759.70,330.64 L760.72,331.84 L761.73,333.03 L762.74,334.22 L763.75,335.39 L764.76,336.55 L765.77,337.71 L766.79,338.85 L767.80,339.99 L768.81,341.11 L769.82,342.22 L770.83,343.32 L771.84,344.41 L772.86,345.49 L773.87,346.55 L774.88,347.61 L775.89,348.65 L776.90,349.68 L777.91,350.70 L778.93,351.71 L779.94,352.70 L780.95,353.69 L781.96,354.66 L782.97,355.62 L783.98,356.58 L785.00,357.52 L786.01,358.44 L787.02,359.36 L788.03,360.27 L789.04,361.17 L790.05,362.05 L791.07,362.93 L792.08,363.79 L793.09,364.65 L794.10,365.49 L795.11,366.33 L796.13,367.15 L797.14,367.97 L798.15,368.77 L799.16,369.57 L800.17,370.36 L801.18,371.13 L802.20,371.90 L803.21,372.66 L804.22,373.41 L805.23,374.15 L806.24,374.89 L807.25,375.61 L808.27,376.33 L809.28,377.04 L810.29,377.74 L811.30,378.43 L812.31,379.11 L813.32,379.79 L814.34,380.46 L815.35,381.12 L816.36,381.78 L817.37,382.42 L818.38,383.06 L819.39,383.70 L820.41,384.32 L821.42,384.94 L822.43,385.55 L823.44,386.16 L824.45,386.76 L825.46,387.35 L826.48,387.93 L827.49,388.51 L828.50,389.09" stroke="#bebebe" stroke-width="2.7" stroke-dasharray="7.95 2.3 1.4 2.2" stroke-dashoffset="0"/>
<path d="M120.30,394.00 L121.31,394.55 L122.32,395.09 L123.34,395.63 L124.35,396.16 L125.36,396.69 L126.37,397.21 L127.38,397.73 L128.39,398.24 L129.41,398.74 L130.42,399.24 L131.43,399.74 L132.44,400.23 L133.45,400.71 L134.46,401.19 L135.48,401.67 L136.49,402.14 L137.50,402.60 L138.51,403.06 L139.52,403.52 L140.53,403.97 L141.55,404.42 L142.56,404.86 L143.57,405.30 L144.58,405.73 L145.59,406.16 L146.60,406.58 L147.62,407.00 L148.63,407.42 L149.64,407.83 L150.65,408.24 L151.66,408.65 L152.67,409.05 L153.69,409.44 L154.70,409.84 L155.71,410.23 L156.72,410.61 L157.73,410.99 L158.75,411.37 L159.76,411.74 L160.77,412.11 L161.78,412.48 L162.79,412.84 L163.80,413.20 L164.82,413.56 L165.83,413.91 L166.84,414.26 L167.85,414.61 L168.86,414.95 L169.87,415.29 L170.89,415.63 L171.90,415.96 L172.91,416.29 L173.92,416.62 L174.93,416.94 L175.94,417.26 L176.96,417.58 L177.97,417.90 L178.98,418.21 L179.99,418.52 L181.00,418.82 L182.01,419.13 L183.03,419.43 L184.04,419.73 L185.05,420.02 L186.06,420.31 L187.07,420.60 L188.08,420.89 L189.10,421.17 L190.11,421.45 L191.12,421.73 L192.13,422.01 L193.14,422.28 L194.16,422.55 L195.17,422.82 L196.18,423.08 L197.19,423.35 L198.20,423.61 L199.21,423.86 L200.23,424.12 L201.24,424.37 L202.25,424.62 L203.26,424.87 L204.27,425.12 L205.28,425.36 L206.30,425.60 L207.31,425.84 L208.32,426.08 L209.33,426.31 L210.34,426.55 L211.35,426.78 L212.37,427.00 L213.38,427.23 L214.39,427.45 L215.40,427.67 L216.41,427.89 L217.42,428.11 L218.44,428.33 L219.45,428.54 L220.46,428.75 L221.47,428.96 L222.48,429.16 L223.49,429.37 L224.51,429.57 L225.52,429.77 L226.53,429.97 L227.54,430.17 L228.55,430.36 L229.57,430.56 L230.58,430.75 L231.59,430.94 L232.60,431.12 L233.61,431.31 L234.62,431.49 L235.64,431.67 L236.65,431.85 L237.66,432.03 L238.67,432.21 L239.68,432.38 L240.69,432.55 L241.71,432.72 L242.72,432.89 L243.73,433.06 L244.74,433.22 L245.75,433.39 L246.76,433.55 L247.78,433.71 L248.79,433.87 L249.80,434.02 L250.81,434.18 L251.82,434.33 L252.83,434.48 L253.85,434.63 L254.86,434.78 L255.87,434.93 L256.88,435.07 L257.89,435.21 L258.90,435.36 L259.92,435.50 L260.93,435.63 L261.94,435.77 L262.95,435.91 L263.96,436.04 L264.98,436.17 L265.99,436.30 L267.00,436.43 L268.01,436.56 L269.02,436.68 L270.03,436.81 L271.05,436.93 L272.06,437.05 L273.07,437.17 L274.08,437.29 L275.09,437.41 L276.10,437.52 L277.12,437.64 L278.13,437.75 L279.14,437.86 L280.15,437.97 L281.16,438.08 L282.17,438.18 L283.19,438.29 L284.20,438.39 L285.21,438.50 L286.22,438.60 L287.23,438.70 L288.24,438.79 L289.26,438.89 L290.27,438.98 L291.28,439.08 L292.29,439.17 L293.30,439.26 L294.31,439.35 L295.33,439.44 L296.34,439.53 L297.35,439.61 L298.36,439.70 L299.37,439.78 L300.39,439.86 L301.40,439.94 L302.41,440.02 L303.42,440.10 L304.43,440.17 L305.44,440.25 L306.46,440.32 L307.47,440.39 L308.48,440.46 L309.49,440.53 L310.50,440.60 L311.51,440.67 L312.53,440.73 L313.54,440.80 L314.55,440.86 L315.56,440.92 L316.57,440.98 L317.58,441.04 L318.60,441.10 L319.61,441.15 L320.62,441.21 L321.63,441.26 L322.64,441.31 L323.65,441.37 L324.67,441.41 L325.68,441.46 L326.69,441.51 L327.70,441.56 L328.71,441.60 L329.72,441.65 L330.74,441.69 L331.75,441.73 L332.76,441.77 L333.77,441.81 L334.78,441.85 L335.80,441.88 L336.81,441.92 L337.82,441.95 L338.83,441.98 L339.84,442.01 L340.85,442.04 L341.87,442.07 L342.88,442.10 L343.89,442.13 L344.90,442.15 L345.91,442.17 L346.92,442.20 L347.94,442.22 L348.95,442.24 L349.96,442.26 L350.97,442.27 L351.98,442.29 L352.99,442.31 L354.01,442.32 L355.02,442.33 L356.03,442.34 L357.04,442.35 L358.05,442.36 L359.06,442.37 L360.08,442.38 L361.09,442.38 L362.10,442.39 L363.11,442.39 L364.12,442.39 L365.13,442.39 L366.15,442.39 L367.16,442.39 L368.17,442.39 L369.18,442.38 L370.19,442.38 L371.21,442.37 L372.22,442.36 L373.23,442.35 L374.24,442.34 L375.25,442.33 L376.26,442.32 L377.28,442.30 L378.29,442.29 L379.30,442.27 L380.31,442.26 L381.32,442.24 L382.33,442.22 L383.35,442.19 L384.36,442.17 L385.37,442.15 L386.38,442.12 L387.39,442.10 L388.40,442.07 L389.42,442.04 L390.43,442.01 L391.44,441.98 L392.45,441.95 L393.46,441.91 L394.47,441.88 L395.49,441.84 L396.50,441.80 L397.51,441.77 L398.52,441.73 L399.53,441.68 L400.54,441.64 L401.56,441.60 L402.57,441.55 L403.58,441.51 L404.59,441.46 L405.60,441.41 L406.62,441.36 L407.63,441.31 L408.64,441.26 L409.65,441.20 L410.66,441.15 L411.67,441.09 L412.69,441.03 L413.70,440.97 L414.71,440.91 L415.72,440.85 L416.73,440.79 L417.74,440.73 L418.76,440.66 L419.77,440.59 L420.78,440.52 L421.79,440.46 L422.80,440.38 L423.81,440.31 L424.83,440.24 L425.84,440.16 L426.85,440.09 L427.86,440.01 L428.87,439.93 L429.88,439.85 L430.90,439.77 L431.91,439.69 L432.92,439.60 L433.93,439.52 L434.94,439.43 L435.95,439.34 L436.97,439.25 L437.98,439.16 L438.99,439.07 L440.00,438.98 L441.01,438.88 L442.03,438.78 L443.04,438.69 L444.05,438.59 L445.06,438.49 L446.07,438.38 L447.08,438.28 L448.10,438.17 L449.11,438.07 L450.12,437.96 L451.13,437.85 L452.14,437.74 L453.15,437.63 L454.17,437.51 L455.18,437.40 L456.19,437.28 L457.20,437.16 L458.21,437.04 L459.22,436.92 L460.24,436.80 L461.25,436.67 L462.26,436.55 L463.27,436.42 L464.28,436.29 L465.29,436.16 L466.31,436.03 L467.32,435.89 L468.33,435.76 L469.34,435.62 L470.35,435.48 L471.36,435.34 L472.38,435.20 L473.39,435.06 L474.40,434.91 L475.41,434.77 L476.42,434.62 L477.44,434.47 L478.45,434.32 L479.46,434.16 L480.47,434.01 L481.48,433.85 L482.49,433.69 L483.51,433.53 L484.52,433.37 L485.53,433.21 L486.54,433.04 L487.55,432.88 L488.56,432.71 L489.58,432.54 L490.59,432.36 L491.60,432.19 L492.61,432.01 L493.62,431.84 L494.63,431.66 L495.65,431.47 L496.66,431.29 L497.67,431.10 L498.68,430.92 L499.69,430.73 L500.70,430.54 L501.72,430.34 L502.73,430.15 L503.74,429.95 L504.75,429.75 L505.76,429.55 L506.77,429.35 L507.79,429.15 L508.80,428.94 L509.81,428.73 L510.82,428.52 L511.83,428.31 L512.85,428.09 L513.86,427.87 L514.87,427.65 L515.88,427.43 L516.89,427.21 L517.90,426.98 L518.92,426.75 L519.93,426.52 L520.94,426.29 L521.95,426.06 L522.96,425.82 L523.97,425.58 L524.99,425.34 L526.00,425.10 L527.01,424.85 L528.02,424.60 L529.03,424.35 L530.04,424.10 L531.06,423.84 L532.07,423.58 L533.08,423.32 L534.09,423.06 L535.10,422.79 L536.11,422.52 L537.13,422.25 L538.14,421.98 L539.15,421.70 L540.16,421.43 L541.17,421.14 L542.18,420.86 L543.20,420.57 L544.21,420.28 L545.22,419.99 L546.23,419.70 L547.24,419.40 L548.26,419.10 L549.27,418.80 L550.28,418.49 L551.29,418.18 L552.30,417.87 L553.31,417.55 L554.33,417.24 L555.34,416.91 L556.35,416.59 L557.36,416.26 L558.37,415.93 L559.38,415.60 L560.40,415.26 L561.41,414.92 L562.42,414.58 L563.43,414.23 L564.44,413.88 L565.45,413.53 L566.47,413.17 L567.48,412.81 L568.49,412.45 L569.50,412.08 L570.51,411.71 L571.52,411.33 L572.54,410.96 L573.55,410.57 L574.56,410.19 L575.57,409.80 L576.58,409.41 L577.59,409.01 L578.61,408.61 L579.62,408.20 L580.63,407.80 L581.64,407.38 L582.65,406.97 L583.67,406.54 L584.68,406.12 L585.69,405.69 L586.70,405.26 L587.71,404.82 L588.72,404.37 L589.74,403.93 L590.75,403.48 L591.76,403.02 L592.77,402.56 L593.78,402.09 L594.79,401.62 L595.81,401.15 L596.82,400.67 L597.83,400.18 L598.84,399.69 L599.85,399.20 L600.86,398.69 L601.88,398.19 L602.89,397.68 L603.90,397.16 L604.91,396.64 L605.92,396.11 L606.93,395.58 L607.95,395.04 L608.96,394.50 L609.97,393.95 L610.98,393.39 L611.99,392.83 L613.00,392.26 L614.02,391.69 L615.03,391.10 L616.04,390.52 L617.05,389.92 L618.06,389.32 L619.08,388.72 L620.09,388.10 L621.10,387.48 L622.11,386.86 L623.12,386.22 L624.13,385.58 L625.15,384.93 L626.16,384.28 L627.17,383.61 L628.18,382.94 L629.19,382.26 L630.20,381.58 L631.22,380.88 L632.23,380.18 L633.24,379.47 L634.25,378.75 L635.26,378.03 L636.27,377.29 L637.29,376.55 L638.30,375.79 L639.31,375.03 L640.32,374.26 L641.33,373.48 L642.34,372.69 L643.36,371.90 L644.37,371.09 L645.38,370.27 L646.39,369.44 L647.40,368.61 L648.41,367.76 L649.43,366.90 L650.44,366.04 L651.45,365.16 L652.46,364.27 L653.47,363.37 L654.49,362.46 L655.50,361.54 L656.51,360.61 L657.52,359.67 L658.53,358.71 L659.54,357.75 L660.56,356.77 L661.57,355.79 L662.58,354.79 L663.59,353.78 L664.60,352.75 L665.61,351.72 L666.63,350.68 L667.64,349.62 L668.65,348.55 L669.66,347.47 L670.67,346.38 L671.68,345.28 L672.70,344.16 L673.71,343.04 L674.72,341.90 L675.73,340.76 L676.74,339.60 L677.75,338.43 L678.77,337.26 L679.78,336.07 L680.79,334.88 L681.80,333.67 L682.81,332.46 L683.82,331.25 L684.84,330.02 L685.85,328.79 L686.86,327.56 L687.87,326.33 L688.88,325.09 L689.90,323.85 L690.91,322.61 L691.92,321.38 L692.93,320.15 L693.94,318.92 L694.95,317.70 L695.97,316.50 L696.98,315.30 L697.99,314.12 L699.00,312.96 L700.01,311.82 L701.02,310.70 L702.04,309.60 L703.05,308.54 L704.06,307.51 L705.07,306.51 L706.08,305.56 L707.09,304.64 L708.11,303.78 L709.12,302.96 L710.13,302.20 L711.14,301.50 L712.15,300.85 L713.16,300.27 L714.18,299.76 L715.19,299.32 L716.20,298.94 L717.21,298.65 L718.22,298.42 L719.23,298.28 L720.25,298.21 L721.26,298.21 L722.27,298.30 L723.28,298.46 L724.29,298.70 L725.31,299.02 L726.32,299.41 L727.33,299.87 L728.34,300.40 L729.35,300.99 L730.36,301.65 L731.38,302.36 L732.39,303.14 L733.40,303.97 L734.41,304.84 L735.42,305.76 L736.43,306.73 L737.45,307.73 L738.46,308.77 L739.47,309.84 L740.48,310.94 L741.49,312.07 L742.50,313.21 L743.52,314.38 L744.53,315.56 L745.54,316.76 L746.55,317.97 L747.56,319.19 L748.57,320.42 L749.59,321.65 L750.60,322.88 L751.61,324.12 L752.62,325.36 L753.63,326.60 L754.64,327.83 L755.66,329.06 L756.67,330.29 L757.68,331.51 L758.69,332.73 L759.70,333.94 L760.72,335.14 L761.73,336.33 L762.74,337.52 L763.75,338.69 L764.76,339.85 L765.77,341.01 L766.79,342.15 L767.80,343.29 L768.81,344.41 L769.82,345.52 L770.83,346.62 L771.84,347.71 L772.86,348.79 L773.87,349.85 L774.88,350.91 L775.89,351.95 L776.90,352.98 L777.91,354.00 L778.93,355.01 L779.94,356.00 L780.95,356.99 L781.96,357.96 L782.97,358.92 L783.98,359.88 L785.00,360.82 L786.01,361.74 L787.02,362.66 L788.03,363.57 L789.04,364.47 L790.05,365.35 L791.07,366.23 L792.08,367.09 L793.09,367.95 L794.10,368.79 L795.11,369.63 L796.13,370.45 L797.14,371.27 L798.15,372.07 L799.16,372.87 L800.17,373.66 L801.18,374.43 L802.20,375.20 L803.21,375.96 L804.22,376.71 L805.23,377.45 L806.24,378.19 L807.25,378.91 L808.27,379.63 L809.28,380.34 L810.29,381.04 L811.30,381.73 L812.31,382.41 L813.32,383.09 L814.34,383.76 L815.35,384.42 L816.36,385.08 L817.37,385.72 L818.38,386.36 L819.39,387.00 L820.41,387.62 L821.42,388.24 L822.43,388.85 L823.44,389.46 L824.45,390.06 L825.46,390.65 L826.48,391.23 L827.49,391.81 L828.50,392.39" stroke="#8b0000" stroke-width="2.7" stroke-dasharray="1.75 1.43" stroke-dashoffset="2.08"/>
<path d="M120.30,397.30 L121.31,397.85 L122.32,398.39 L123.34,398.93 L124.35,399.46 L125.36,399.99 L126.37,400.51 L127.38,401.03 L128.39,401.54 L129.41,402.04 L130.42,402.54 L131.43,403.04 L132.44,403.53 L133.45,404.01 L134.46,404.49 L135.48,404.97 L136.49,405.44 L137.50,405.90 L138.51,406.36 L139.52,406.82 L140.53,407.27 L141.55,407.72 L142.56,408.16 L143.57,408.60 L144.58,409.03 L145.59,409.46 L146.60,409.88 L147.62,410.30 L148.63,410.72 L149.64,411.13 L150.65,411.54 L151.66,411.95 L152.67,412.35 L153.69,412.74 L154.70,413.14 L155.71,413.53 L156.72,413.91 L157.73,414.29 L158.75,414.67 L159.76,415.04 L160.77,415.41 L161.78,415.78 L162.79,416.14 L163.80,416.50 L164.82,416.86 L165.83,417.21 L166.84,417.56 L167.85,417.91 L168.86,418.25 L169.87,418.59 L170.89,418.93 L171.90,419.26 L172.91,419.59 L173.92,419.92 L174.93,420.24 L175.94,420.56 L176.96,420.88 L177.97,421.20 L178.98,421.51 L179.99,421.82 L181.00,422.12 L182.01,422.43 L183.03,422.73 L184.04,423.03 L185.05,423.32 L186.06,423.61 L187.07,423.90 L188.08,424.19 L189.10,424.47 L190.11,424.75 L191.12,425.03 L192.13,425.31 L193.14,425.58 L194.16,425.85 L195.17,426.12 L196.18,426.38 L197.19,426.65 L198.20,426.91 L199.21,427.16 L200.23,427.42 L201.24,427.67 L202.25,427.92 L203.26,428.17 L204.27,428.42 L205.28,428.66 L206.30,428.90 L207.31,429.14 L208.32,429.38 L209.33,429.61 L210.34,429.85 L211.35,430.08 L212.37,430.30 L213.38,430.53 L214.39,430.75 L215.40,430.97 L216.41,431.19 L217.42,431.41 L218.44,431.63 L219.45,431.84 L220.46,432.05 L221.47,432.26 L222.48,432.46 L223.49,432.67 L224.51,432.87 L225.52,433.07 L226.53,433.27 L227.54,433.47 L228.55,433.66 L229.57,433.86 L230.58,434.05 L231.59,434.24 L232.60,434.42 L233.61,434.61 L234.62,434.79 L235.64,434.97 L236.65,435.15 L237.66,435.33 L238.67,435.51 L239.68,435.68 L240.69,435.85 L241.71,436.02 L242.72,436.19 L243.73,436.36 L244.74,436.52 L245.75,436.69 L246.76,436.85 L247.78,437.01 L248.79,437.17 L249.80,437.32 L250.81,437.48 L251.82,437.63 L252.83,437.78 L253.85,437.93 L254.86,438.08 L255.87,438.23 L256.88,438.37 L257.89,438.51 L258.90,438.66 L259.92,438.80 L260.93,438.93 L261.94,439.07 L262.95,439.21 L263.96,439.34 L264.98,439.47 L265.99,439.60 L267.00,439.73 L268.01,439.86 L269.02,439.98 L270.03,440.11 L271.05,440.23 L272.06,440.35 L273.07,440.47 L274.08,440.59 L275.09,440.71 L276.10,440.82 L277.12,440.94 L278.13,441.05 L279.14,441.16 L280.15,441.27 L281.16,441.38 L282.17,441.48 L283.19,441.59 L284.20,441.69 L285.21,441.80 L286.22,441.90 L287.23,442.00 L288.24,442.09 L289.26,442.19 L290.27,442.28 L291.28,442.38 L292.29,442.47 L293.30,442.56 L294.31,442.65 L295.33,442.74 L296.34,442.83 L297.35,442.91 L298.36,443.00 L299.37,443.08 L300.39,443.16 L301.40,443.24 L302.41,443.32 L303.42,443.40 L304.43,443.47 L305.44,443.55 L306.46,443.62 L307.47,443.69 L308.48,443.76 L309.49,443.83 L310.50,443.90 L311.51,443.97 L312.53,444.03 L313.54,444.10 L314.55,444.16 L315.56,444.22 L316.57,444.28 L317.58,444.34 L318.60,444.40 L319.61,444.45 L320.62,444.51 L321.63,444.56 L322.64,444.61 L323.65,444.67 L324.67,444.71 L325.68,444.76 L326.69,444.81 L327.70,444.86 L328.71,444.90 L329.72,444.95 L330.74,444.99 L331.75,445.03 L332.76,445.07 L333.77,445.11 L334.78,445.15 L335.80,445.18 L336.81,445.22 L337.82,445.25 L338.83,445.28 L339.84,445.31 L340.85,445.34 L341.87,445.37 L342.88,445.40 L343.89,445.43 L344.90,445.45 L345.91,445.47 L346.92,445.50 L347.94,445.52 L348.95,445.54 L349.96,445.56 L350.97,445.57 L351.98,445.59 L352.99,445.61 L354.01,445.62 L355.02,445.63 L356.03,445.64 L357.04,445.65 L358.05,445.66 L359.06,445.67 L360.08,445.68 L361.09,445.68 L362.10,445.69 L363.11,445.69 L364.12,445.69 L365.13,445.69 L366.15,445.69 L367.16,445.69 L368.17,445.69 L369.18,445.68 L370.19,445.68 L371.21,445.67 L372.22,445.66 L373.23,445.65 L374.24,445.64 L375.25,445.63 L376.26,445.62 L377.28,445.60 L378.29,445.59 L379.30,445.57 L380.31,445.56 L381.32,445.54 L382.33,445.52 L383.35,445.49 L384.36,445.47 L385.37,445.45 L386.38,445.42 L387.39,445.40 L388.40,445.37 L389.42,445.34 L390.43,445.31 L391.44,445.28 L392.45,445.25 L393.46,445.21 L394.47,445.18 L395.49,445.14 L396.50,445.10 L397.51,445.07 L398.52,445.03 L399.53,444.98 L400.54,444.94 L401.56,444.90 L402.57,444.85 L403.58,444.81 L404.59,444.76 L405.60,444.71 L406.62,444.66 L407.63,444.61 L408.64,444.56 L409.65,444.50 L410.66,444.45 L411.67,444.39 L412.69,444.33 L413.70,444.27 L414.71,444.21 L415.72,444.15 L416.73,444.09 L417.74,444.03 L418.76,443.96 L419.77,443.89 L420.78,443.82 L421.79,443.76 L422.80,443.68 L423.81,443.61 L424.83,443.54 L425.84,443.46 L426.85,443.39 L427.86,443.31 L428.87,443.23 L429.88,443.15 L430.90,443.07 L431.91,442.99 L432.92,442.90 L433.93,442.82 L434.94,442.73 L435.95,442.64 L436.97,442.55 L437.98,442.46 L438.99,442.37 L440.00,442.28 L441.01,442.18 L442.03,442.08 L443.04,441.99 L444.05,441.89 L445.06,441.79 L446.07,441.68 L447.08,441.58 L448.10,441.47 L449.11,441.37 L450.12,441.26 L451.13,441.15 L452.14,441.04 L453.15,440.93 L454.17,440.81 L455.18,440.70 L456.19,440.58 L457.20,440.46 L458.21,440.34 L459.22,440.22 L460.24,440.10 L461.25,439.97 L462.26,439.85 L463.27,439.72 L464.28,439.59 L465.29,439.46 L466.31,439.33 L467.32,439.19 L468.33,439.06 L469.34,438.92 L470.35,438.78 L471.36,438.64 L472.38,438.50 L473.39,438.36 L474.40,438.21 L475.41,438.07 L476.42,437.92 L477.44,437.77 L478.45,437.62 L479.46,437.46 L480.47,437.31 L481.48,437.15 L482.49,436.99 L483.51,436.83 L484.52,436.67 L485.53,436.51 L486.54,436.34 L487.55,436.18 L488.56,436.01 L489.58,435.84 L490.59,435.66 L491.60,435.49 L492.61,435.31 L493.62,435.14 L494.63,434.96 L495.65,434.77 L496.66,434.59 L497.67,434.40 L498.68,434.22 L499.69,434.03 L500.70,433.84 L501.72,433.64 L502.73,433.45 L503.74,433.25 L504.75,433.05 L505.76,432.85 L506.77,432.65 L507.79,432.45 L508.80,432.24 L509.81,432.03 L510.82,431.82 L511.83,431.61 L512.85,431.39 L513.86,431.17 L514.87,430.95 L515.88,430.73 L516.89,430.51 L517.90,430.28 L518.92,430.05 L519.93,429.82 L520.94,429.59 L521.95,429.36 L522.96,429.12 L523.97,428.88 L524.99,428.64 L526.00,428.40 L527.01,428.15 L528.02,427.90 L529.03,427.65 L530.04,427.40 L531.06,427.14 L532.07,426.88 L533.08,426.62 L534.09,426.36 L535.10,426.09 L536.11,425.82 L537.13,425.55 L538.14,425.28 L539.15,425.00 L540.16,424.73 L541.17,424.44 L542.18,424.16 L543.20,423.87 L544.21,423.58 L545.22,423.29 L546.23,423.00 L547.24,422.70 L548.26,422.40 L549.27,422.10 L550.28,421.79 L551.29,421.48 L552.30,421.17 L553.31,420.85 L554.33,420.54 L555.34,420.21 L556.35,419.89 L557.36,419.56 L558.37,419.23 L559.38,418.90 L560.40,418.56 L561.41,418.22 L562.42,417.88 L563.43,417.53 L564.44,417.18 L565.45,416.83 L566.47,416.47 L567.48,416.11 L568.49,415.75 L569.50,415.38 L570.51,415.01 L571.52,414.63 L572.54,414.26 L573.55,413.87 L574.56,413.49 L575.57,413.10 L576.58,412.71 L577.59,412.31 L578.61,411.91 L579.62,411.50 L580.63,411.10 L581.64,410.68 L582.65,410.27 L583.67,409.84 L584.68,409.42 L585.69,408.99 L586.70,408.56 L587.71,408.12 L588.72,407.67 L589.74,407.23 L590.75,406.78 L591.76,406.32 L592.77,405.86 L593.78,405.39 L594.79,404.92 L595.81,404.45 L596.82,403.97 L597.83,403.48 L598.84,402.99 L599.85,402.50 L600.86,401.99 L601.88,401.49 L602.89,400.98 L603.90,400.46 L604.91,399.94 L605.92,399.41 L606.93,398.88 L607.95,398.34 L608.96,397.80 L609.97,397.25 L610.98,396.69 L611.99,396.13 L613.00,395.56 L614.02,394.99 L615.03,394.40 L616.04,393.82 L617.05,393.22 L618.06,392.62 L619.08,392.02 L620.09,391.40 L621.10,390.78 L622.11,390.16 L623.12,389.52 L624.13,388.88 L625.15,388.23 L626.16,387.58 L627.17,386.91 L628.18,386.24 L629.19,385.56 L630.20,384.88 L631.22,384.18 L632.23,383.48 L633.24,382.77 L634.25,382.05 L635.26,381.33 L636.27,380.59 L637.29,379.85 L638.30,379.09 L639.31,378.33 L640.32,377.56 L641.33,376.78 L642.34,375.99 L643.36,375.20 L644.37,374.39 L645.38,373.57 L646.39,372.74 L647.40,371.91 L648.41,371.06 L649.43,370.20 L650.44,369.34 L651.45,368.46 L652.46,367.57 L653.47,366.67 L654.49,365.76 L655.50,364.84 L656.51,363.91 L657.52,362.97 L658.53,362.01 L659.54,361.05 L660.56,360.07 L661.57,359.09 L662.58,358.09 L663.59,357.08 L664.60,356.05 L665.61,355.02 L666.63,353.98 L667.64,352.92 L668.65,351.85 L669.66,350.77 L670.67,349.68 L671.68,348.58 L672.70,347.46 L673.71,346.34 L674.72,345.20 L675.73,344.06 L676.74,342.90 L677.75,341.73 L678.77,340.56 L679.78,339.37 L680.79,338.18 L681.80,336.97 L682.81,335.76 L683.82,334.55 L684.84,333.32 L685.85,332.09 L686.86,330.86 L687.87,329.63 L688.88,328.39 L689.90,327.15 L690.91,325.91 L691.92,324.68 L692.93,323.45 L693.94,322.22 L694.95,321.00 L695.97,319.80 L696.98,318.60 L697.99,317.42 L699.00,316.26 L700.01,315.12 L701.02,314.00 L702.04,312.90 L703.05,311.84 L704.06,310.81 L705.07,309.81 L706.08,308.86 L707.09,307.94 L708.11,307.08 L709.12,306.26 L710.13,305.50 L711.14,304.80 L712.15,304.15 L713.16,303.57 L714.18,303.06 L715.19,302.62 L716.20,302.24 L717.21,301.95 L718.22,301.72 L719.23,301.58 L720.25,301.51 L721.26,301.51 L722.27,301.60 L723.28,301.76 L724.29,302.00 L725.31,302.32 L726.32,302.71 L727.33,303.17 L728.34,303.70 L729.35,304.29 L730.36,304.95 L731.38,305.66 L732.39,306.44 L733.40,307.27 L734.41,308.14 L735.42,309.06 L736.43,310.03 L737.45,311.03 L738.46,312.07 L739.47,313.14 L740.48,314.24 L741.49,315.37 L742.50,316.51 L743.52,317.68 L744.53,318.86 L745.54,320.06 L746.55,321.27 L747.56,322.49 L748.57,323.72 L749.59,324.95 L750.60,326.18 L751.61,327.42 L752.62,328.66 L753.63,329.90 L754.64,331.13 L755.66,332.36 L756.67,333.59 L757.68,334.81 L758.69,336.03 L759.70,337.24 L760.72,338.44 L761.73,339.63 L762.74,340.82 L763.75,341.99 L764.76,343.15 L765.77,344.31 L766.79,345.45 L767.80,346.59 L768.81,347.71 L769.82,348.82 L770.83,349.92 L771.84,351.01 L772.86,352.09 L773.87,353.15 L774.88,354.21 L775.89,355.25 L776.90,356.28 L777.91,357.30 L778.93,358.31 L779.94,359.30 L780.95,360.29 L781.96,361.26 L782.97,362.22 L783.98,363.18 L785.00,364.12 L786.01,365.04 L787.02,365.96 L788.03,366.87 L789.04,367.77 L790.05,368.65 L791.07,369.53 L792.08,370.39 L793.09,371.25 L794.10,372.09 L795.11,372.93 L796.13,373.75 L797.14,374.57 L798.15,375.37 L799.16,376.17 L800.17,376.96 L801.18,377.73 L802.20,378.50 L803.21,379.26 L804.22,380.01 L805.23,380.75 L806.24,381.49 L807.25,382.21 L808.27,382.93 L809.28,383.64 L810.29,384.34 L811.30,385.03 L812.31,385.71 L813.32,386.39 L814.34,387.06 L815.35,387.72 L816.36,388.38 L817.37,389.02 L818.38,389.66 L819.39,390.30 L820.41,390.92 L821.42,391.54 L822.43,392.15 L823.44,392.76 L824.45,393.36 L825.46,393.95 L826.48,394.53 L827.49,395.11 L828.50,395.69" stroke="#000000" stroke-width="2.7" stroke-dasharray="3.0 3.33" stroke-dashoffset="1.1"/>
<path d="M120.30,402.20 L121.31,402.75 L122.32,403.29 L123.34,403.83 L124.35,404.36 L125.36,404.89 L126.37,405.41 L127.38,405.93 L128.39,406.44 L129.41,406.94 L130.42,407.44 L131.43,407.94 L132.44,408.43 L133.45,408.91 L134.46,409.39 L135.48,409.87 L136.49,410.34 L137.50,410.80 L138.51,411.26 L139.52,411.72 L140.53,412.17 L141.55,412.62 L142.56,413.06 L143.57,413.50 L144.58,413.93 L145.59,414.36 L146.60,414.78 L147.62,415.20 L148.63,415.62 L149.64,416.03 L150.65,416.44 L151.66,416.85 L152.67,417.25 L153.69,417.64 L154.70,418.04 L155.71,418.43 L156.72,418.81 L157.73,419.19 L158.75,419.57 L159.76,419.94 L160.77,420.31 L161.78,420.68 L162.79,421.04 L163.80,421.40 L164.82,421.76 L165.83,422.11 L166.84,422.46 L167.85,422.81 L168.86,423.15 L169.87,423.49 L170.89,423.83 L171.90,424.16 L172.91,424.49 L173.92,424.82 L174.93,425.14 L175.94,425.46 L176.96,425.78 L177.97,426.10 L178.98,426.41 L179.99,426.72 L181.00,427.02 L182.01,427.33 L183.03,427.63 L184.04,427.93 L185.05,428.22 L186.06,428.51 L187.07,428.80 L188.08,429.09 L189.10,429.37 L190.11,429.65 L191.12,429.93 L192.13,430.21 L193.14,430.48 L194.16,430.75 L195.17,431.02 L196.18,431.28 L197.19,431.55 L198.20,431.81 L199.21,432.06 L200.23,432.32 L201.24,432.57 L202.25,432.82 L203.26,433.07 L204.27,433.32 L205.28,433.56 L206.30,433.80 L207.31,434.04 L208.32,434.28 L209.33,434.51 L210.34,434.75 L211.35,434.98 L212.37,435.20 L213.38,435.43 L214.39,435.65 L215.40,435.87 L216.41,436.09 L217.42,436.31 L218.44,436.53 L219.45,436.74 L220.46,436.95 L221.47,437.16 L222.48,437.36 L223.49,437.57 L224.51,437.77 L225.52,437.97 L226.53,438.17 L227.54,438.37 L228.55,438.56 L229.57,438.76 L230.58,438.95 L231.59,439.14 L232.60,439.32 L233.61,439.51 L234.62,439.69 L235.64,439.87 L236.65,440.05 L237.66,440.23 L238.67,440.41 L239.68,440.58 L240.69,440.75 L241.71,440.92 L242.72,441.09 L243.73,441.26 L244.74,441.42 L245.75,441.59 L246.76,441.75 L247.78,441.91 L248.79,442.07 L249.80,442.22 L250.81,442.38 L251.82,442.53 L252.83,442.68 L253.85,442.83 L254.86,442.98 L255.87,443.13 L256.88,443.27 L257.89,443.41 L258.90,443.56 L259.92,443.70 L260.93,443.83 L261.94,443.97 L262.95,444.11 L263.96,444.24 L264.98,444.37 L265.99,444.50 L267.00,444.63 L268.01,444.76 L269.02,444.88 L270.03,445.01 L271.05,445.13 L272.06,445.25 L273.07,445.37 L274.08,445.49 L275.09,445.61 L276.10,445.72 L277.12,445.84 L278.13,445.95 L279.14,446.06 L280.15,446.17 L281.16,446.28 L282.17,446.38 L283.19,446.49 L284.20,446.59 L285.21,446.70 L286.22,446.80 L287.23,446.90 L288.24,446.99 L289.26,447.09 L290.27,447.18 L291.28,447.28 L292.29,447.37 L293.30,447.46 L294.31,447.55 L295.33,447.64 L296.34,447.73 L297.35,447.81 L298.36,447.90 L299.37,447.98 L300.39,448.06 L301.40,448.14 L302.41,448.22 L303.42,448.30 L304.43,448.37 L305.44,448.45 L306.46,448.52 L307.47,448.59 L308.48,448.66 L309.49,448.73 L310.50,448.80 L311.51,448.87 L312.53,448.93 L313.54,449.00 L314.55,449.06 L315.56,449.12 L316.57,449.18 L317.58,449.24 L318.60,449.30 L319.61,449.35 L320.62,449.41 L321.63,449.46 L322.64,449.51 L323.65,449.57 L324.67,449.61 L325.68,449.66 L326.69,449.71 L327.70,449.76 L328.71,449.80 L329.72,449.85 L330.74,449.89 L331.75,449.93 L332.76,449.97 L333.77,450.01 L334.78,450.05 L335.80,450.08 L336.81,450.12 L337.82,450.15 L338.83,450.18 L339.84,450.21 L340.85,450.24 L341.87,450.27 L342.88,450.30 L343.89,450.33 L344.90,450.35 L345.91,450.37 L346.92,450.40 L347.94,450.42 L348.95,450.44 L349.96,450.46 L350.97,450.47 L351.98,450.49 L352.99,450.51 L354.01,450.52 L355.02,450.53 L356.03,450.54 L357.04,450.55 L358.05,450.56 L359.06,450.57 L360.08,450.58 L361.09,450.58 L362.10,450.59 L363.11,450.59 L364.12,450.59 L365.13,450.59 L366.15,450.59 L367.16,450.59 L368.17,450.59 L369.18,450.58 L370.19,450.58 L371.21,450.57 L372.22,450.56 L373.23,450.55 L374.24,450.54 L375.25,450.53 L376.26,450.52 L377.28,450.50 L378.29,450.49 L379.30,450.47 L380.31,450.46 L381.32,450.44 L382.33,450.42 L383.35,450.39 L384.36,450.37 L385.37,450.35 L386.38,450.32 L387.39,450.30 L388.40,450.27 L389.42,450.24 L390.43,450.21 L391.44,450.18 L392.45,450.15 L393.46,450.11 L394.47,450.08 L395.49,450.04 L396.50,450.00 L397.51,449.97 L398.52,449.93 L399.53,449.88 L400.54,449.84 L401.56,449.80 L402.57,449.75 L403.58,449.71 L404.59,449.66 L405.60,449.61 L406.62,449.56 L407.63,449.51 L408.64,449.46 L409.65,449.40 L410.66,449.35 L411.67,449.29 L412.69,449.23 L413.70,449.17 L414.71,449.11 L415.72,449.05 L416.73,448.99 L417.74,448.93 L418.76,448.86 L419.77,448.79 L420.78,448.72 L421.79,448.66 L422.80,448.58 L423.81,448.51 L424.83,448.44 L425.84,448.36 L426.85,448.29 L427.86,448.21 L428.87,448.13 L429.88,448.05 L430.90,447.97 L431.91,447.89 L432.92,447.80 L433.93,447.72 L434.94,447.63 L435.95,447.54 L436.97,447.45 L437.98,447.36 L438.99,447.27 L440.00,447.18 L441.01,447.08 L442.03,446.98 L443.04,446.89 L444.05,446.79 L445.06,446.69 L446.07,446.58 L447.08,446.48 L448.10,446.37 L449.11,446.27 L450.12,446.16 L451.13,446.05 L452.14,445.94 L453.15,445.83 L454.17,445.71 L455.18,445.60 L456.19,445.48 L457.20,445.36 L458.21,445.24 L459.22,445.12 L460.24,445.00 L461.25,444.87 L462.26,444.75 L463.27,444.62 L464.28,444.49 L465.29,444.36 L466.31,444.23 L467.32,444.09 L468.33,443.96 L469.34,443.82 L470.35,443.68 L471.36,443.54 L472.38,443.40 L473.39,443.26 L474.40,443.11 L475.41,442.97 L476.42,442.82 L477.44,442.67 L478.45,442.52 L479.46,442.36 L480.47,442.21 L481.48,442.05 L482.49,441.89 L483.51,441.73 L484.52,441.57 L485.53,441.41 L486.54,441.24 L487.55,441.08 L488.56,440.91 L489.58,440.74 L490.59,440.56 L491.60,440.39 L492.61,440.21 L493.62,440.04 L494.63,439.86 L495.65,439.67 L496.66,439.49 L497.67,439.30 L498.68,439.12 L499.69,438.93 L500.70,438.74 L501.72,438.54 L502.73,438.35 L503.74,438.15 L504.75,437.95 L505.76,437.75 L506.77,437.55 L507.79,437.35 L508.80,437.14 L509.81,436.93 L510.82,436.72 L511.83,436.51 L512.85,436.29 L513.86,436.07 L514.87,435.85 L515.88,435.63 L516.89,435.41 L517.90,435.18 L518.92,434.95 L519.93,434.72 L520.94,434.49 L521.95,434.26 L522.96,434.02 L523.97,433.78 L524.99,433.54 L526.00,433.30 L527.01,433.05 L528.02,432.80 L529.03,432.55 L530.04,432.30 L531.06,432.04 L532.07,431.78 L533.08,431.52 L534.09,431.26 L535.10,430.99 L536.11,430.72 L537.13,430.45 L538.14,430.18 L539.15,429.90 L540.16,429.63 L541.17,429.34 L542.18,429.06 L543.20,428.77 L544.21,428.48 L545.22,428.19 L546.23,427.90 L547.24,427.60 L548.26,427.30 L549.27,427.00 L550.28,426.69 L551.29,426.38 L552.30,426.07 L553.31,425.75 L554.33,425.44 L555.34,425.11 L556.35,424.79 L557.36,424.46 L558.37,424.13 L559.38,423.80 L560.40,423.46 L561.41,423.12 L562.42,422.78 L563.43,422.43 L564.44,422.08 L565.45,421.73 L566.47,421.37 L567.48,421.01 L568.49,420.65 L569.50,420.28 L570.51,419.91 L571.52,419.53 L572.54,419.16 L573.55,418.77 L574.56,418.39 L575.57,418.00 L576.58,417.61 L577.59,417.21 L578.61,416.81 L579.62,416.40 L580.63,416.00 L581.64,415.58 L582.65,415.17 L583.67,414.74 L584.68,414.32 L585.69,413.89 L586.70,413.46 L587.71,413.02 L588.72,412.57 L589.74,412.13 L590.75,411.68 L591.76,411.22 L592.77,410.76 L593.78,410.29 L594.79,409.82 L595.81,409.35 L596.82,408.87 L597.83,408.38 L598.84,407.89 L599.85,407.40 L600.86,406.89 L601.88,406.39 L602.89,405.88 L603.90,405.36 L604.91,404.84 L605.92,404.31 L606.93,403.78 L607.95,403.24 L608.96,402.70 L609.97,402.15 L610.98,401.59 L611.99,401.03 L613.00,400.46 L614.02,399.89 L615.03,399.30 L616.04,398.72 L617.05,398.12 L618.06,397.52 L619.08,396.92 L620.09,396.30 L621.10,395.68 L622.11,395.06 L623.12,394.42 L624.13,393.78 L625.15,393.13 L626.16,392.48 L627.17,391.81 L628.18,391.14 L629.19,390.46 L630.20,389.78 L631.22,389.08 L632.23,388.38 L633.24,387.67 L634.25,386.95 L635.26,386.23 L636.27,385.49 L637.29,384.75 L638.30,383.99 L639.31,383.23 L640.32,382.46 L641.33,381.68 L642.34,380.89 L643.36,380.10 L644.37,379.29 L645.38,378.47 L646.39,377.64 L647.40,376.81 L648.41,375.96 L649.43,375.10 L650.44,374.24 L651.45,373.36 L652.46,372.47 L653.47,371.57 L654.49,370.66 L655.50,369.74 L656.51,368.81 L657.52,367.87 L658.53,366.91 L659.54,365.95 L660.56,364.97 L661.57,363.99 L662.58,362.99 L663.59,361.98 L664.60,360.95 L665.61,359.92 L666.63,358.88 L667.64,357.82 L668.65,356.75 L669.66,355.67 L670.67,354.58 L671.68,353.48 L672.70,352.36 L673.71,351.24 L674.72,350.10 L675.73,348.96 L676.74,347.80 L677.75,346.63 L678.77,345.46 L679.78,344.27 L680.79,343.08 L681.80,341.87 L682.81,340.66 L683.82,339.45 L684.84,338.22 L685.85,336.99 L686.86,335.76 L687.87,334.53 L688.88,333.29 L689.90,332.05 L690.91,330.81 L691.92,329.58 L692.93,328.35 L693.94,327.12 L694.95,325.90 L695.97,324.70 L696.98,323.50 L697.99,322.32 L699.00,321.16 L700.01,320.02 L701.02,318.90 L702.04,317.80 L703.05,316.74 L704.06,315.71 L705.07,314.71 L706.08,313.76 L707.09,312.84 L708.11,311.98 L709.12,311.16 L710.13,310.40 L711.14,309.70 L712.15,309.05 L713.16,308.47 L714.18,307.96 L715.19,307.52 L716.20,307.14 L717.21,306.85 L718.22,306.62 L719.23,306.48 L720.25,306.41 L721.26,306.41 L722.27,306.50 L723.28,306.66 L724.29,306.90 L725.31,307.22 L726.32,307.61 L727.33,308.07 L728.34,308.60 L729.35,309.19 L730.36,309.85 L731.38,310.56 L732.39,311.34 L733.40,312.17 L734.41,313.04 L735.42,313.96 L736.43,314.93 L737.45,315.93 L738.46,316.97 L739.47,318.04 L740.48,319.14 L741.49,320.27 L742.50,321.41 L743.52,322.58 L744.53,323.76 L745.54,324.96 L746.55,326.17 L747.56,327.39 L748.57,328.62 L749.59,329.85 L750.60,331.08 L751.61,332.32 L752.62,333.56 L753.63,334.80 L754.64,336.03 L755.66,337.26 L756.67,338.49 L757.68,339.71 L758.69,340.93 L759.70,342.14 L760.72,343.34 L761.73,344.53 L762.74,345.72 L763.75,346.89 L764.76,348.05 L765.77,349.21 L766.79,350.35 L767.80,351.49 L768.81,352.61 L769.82,353.72 L770.83,354.82 L771.84,355.91 L772.86,356.99 L773.87,358.05 L774.88,359.11 L775.89,360.15 L776.90,361.18 L777.91,362.20 L778.93,363.21 L779.94,364.20 L780.95,365.19 L781.96,366.16 L782.97,367.12 L783.98,368.08 L785.00,369.02 L786.01,369.94 L787.02,370.86 L788.03,371.77 L789.04,372.67 L790.05,373.55 L791.07,374.43 L792.08,375.29 L793.09,376.15 L794.10,376.99 L795.11,377.83 L796.13,378.65 L797.14,379.47 L798.15,380.27 L799.16,381.07 L800.17,381.86 L801.18,382.63 L802.20,383.40 L803.21,384.16 L804.22,384.91 L805.23,385.65 L806.24,386.39 L807.25,387.11 L808.27,387.83 L809.28,388.54 L810.29,389.24 L811.30,389.93 L812.31,390.61 L813.32,391.29 L814.34,391.96 L815.35,392.62 L816.36,393.28 L817.37,393.92 L818.38,394.56 L819.39,395.20 L820.41,395.82 L821.42,396.44 L822.43,397.05 L823.44,397.66 L824.45,398.26 L825.46,398.85 L826.48,399.43 L827.49,400.01 L828.50,400.59" stroke="#0000ff" stroke-width="2.7" stroke-dasharray="5.6 2.0" stroke-dashoffset="1.1"/>
<path d="M120.30,410.60 L121.31,411.15 L122.32,411.69 L123.34,412.23 L124.35,412.76 L125.36,413.29 L126.37,413.81 L127.38,414.33 L128.39,414.84 L129.41,415.34 L130.42,415.84 L131.43,416.34 L132.44,416.83 L133.45,417.31 L134.46,417.79 L135.48,418.27 L136.49,418.74 L137.50,419.20 L138.51,419.66 L139.52,420.12 L140.53,420.57 L141.55,421.02 L142.56,421.46 L143.57,421.90 L144.58,422.33 L145.59,422.76 L146.60,423.18 L147.62,423.60 L148.63,424.02 L149.64,424.43 L150.65,424.84 L151.66,425.25 L152.67,425.65 L153.69,426.04 L154.70,426.44 L155.71,426.83 L156.72,427.21 L157.73,427.59 L158.75,427.97 L159.76,428.34 L160.77,428.71 L161.78,429.08 L162.79,429.44 L163.80,429.80 L164.82,430.16 L165.83,430.51 L166.84,430.86 L167.85,431.21 L168.86,431.55 L169.87,431.89 L170.89,432.23 L171.90,432.56 L172.91,432.89 L173.92,433.22 L174.93,433.54 L175.94,433.86 L176.96,434.18 L177.97,434.50 L178.98,434.81 L179.99,435.12 L181.00,435.42 L182.01,435.73 L183.03,436.03 L184.04,436.33 L185.05,436.62 L186.06,436.91 L187.07,437.20 L188.08,437.49 L189.10,437.77 L190.11,438.05 L191.12,438.33 L192.13,438.61 L193.14,438.88 L194.16,439.15 L195.17,439.42 L196.18,439.68 L197.19,439.95 L198.20,440.21 L199.21,440.46 L200.23,440.72 L201.24,440.97 L202.25,441.22 L203.26,441.47 L204.27,441.72 L205.28,441.96 L206.30,442.20 L207.31,442.44 L208.32,442.68 L209.33,442.91 L210.34,443.15 L211.35,443.38 L212.37,443.60 L213.38,443.83 L214.39,444.05 L215.40,444.27 L216.41,444.49 L217.42,444.71 L218.44,444.93 L219.45,445.14 L220.46,445.35 L221.47,445.56 L222.48,445.76 L223.49,445.97 L224.51,446.17 L225.52,446.37 L226.53,446.57 L227.54,446.77 L228.55,446.96 L229.57,447.16 L230.58,447.35 L231.59,447.54 L232.60,447.72 L233.61,447.91 L234.62,448.09 L235.64,448.27 L236.65,448.45 L237.66,448.63 L238.67,448.81 L239.68,448.98 L240.69,449.15 L241.71,449.32 L242.72,449.49 L243.73,449.66 L244.74,449.82 L245.75,449.99 L246.76,450.15 L247.78,450.31 L248.79,450.47 L249.80,450.62 L250.81,450.78 L251.82,450.93 L252.83,451.08 L253.85,451.23 L254.86,451.38 L255.87,451.53 L256.88,451.67 L257.89,451.81 L258.90,451.96 L259.92,452.10 L260.93,452.23 L261.94,452.37 L262.95,452.51 L263.96,452.64 L264.98,452.77 L265.99,452.90 L267.00,453.03 L268.01,453.16 L269.02,453.28 L270.03,453.41 L271.05,453.53 L272.06,453.65 L273.07,453.77 L274.08,453.89 L275.09,454.01 L276.10,454.12 L277.12,454.24 L278.13,454.35 L279.14,454.46 L280.15,454.57 L281.16,454.68 L282.17,454.78 L283.19,454.89 L284.20,454.99 L285.21,455.10 L286.22,455.20 L287.23,455.30 L288.24,455.39 L289.26,455.49 L290.27,455.58 L291.28,455.68 L292.29,455.77 L293.30,455.86 L294.31,455.95 L295.33,456.04 L296.34,456.13 L297.35,456.21 L298.36,456.30 L299.37,456.38 L300.39,456.46 L301.40,456.54 L302.41,456.62 L303.42,456.70 L304.43,456.77 L305.44,456.85 L306.46,456.92 L307.47,456.99 L308.48,457.06 L309.49,457.13 L310.50,457.20 L311.51,457.27 L312.53,457.33 L313.54,457.40 L314.55,457.46 L315.56,457.52 L316.57,457.58 L317.58,457.64 L318.60,457.70 L319.61,457.75 L320.62,457.81 L321.63,457.86 L322.64,457.91 L323.65,457.97 L324.67,458.01 L325.68,458.06 L326.69,458.11 L327.70,458.16 L328.71,458.20 L329.72,458.25 L330.74,458.29 L331.75,458.33 L332.76,458.37 L333.77,458.41 L334.78,458.45 L335.80,458.48 L336.81,458.52 L337.82,458.55 L338.83,458.58 L339.84,458.61 L340.85,458.64 L341.87,458.67 L342.88,458.70 L343.89,458.73 L344.90,458.75 L345.91,458.77 L346.92,458.80 L347.94,458.82 L348.95,458.84 L349.96,458.86 L350.97,458.87 L351.98,458.89 L352.99,458.91 L354.01,458.92 L355.02,458.93 L356.03,458.94 L357.04,458.95 L358.05,458.96 L359.06,458.97 L360.08,458.98 L361.09,458.98 L362.10,458.99 L363.11,458.99 L364.12,458.99 L365.13,458.99 L366.15,458.99 L367.16,458.99 L368.17,458.99 L369.18,458.98 L370.19,458.98 L371.21,458.97 L372.22,458.96 L373.23,458.95 L374.24,458.94 L375.25,458.93 L376.26,458.92 L377.28,458.90 L378.29,458.89 L379.30,458.87 L380.31,458.86 L381.32,458.84 L382.33,458.82 L383.35,458.79 L384.36,458.77 L385.37,458.75 L386.38,458.72 L387.39,458.70 L388.40,458.67 L389.42,458.64 L390.43,458.61 L391.44,458.58 L392.45,458.55 L393.46,458.51 L394.47,458.48 L395.49,458.44 L396.50,458.40 L397.51,458.37 L398.52,458.33 L399.53,458.28 L400.54,458.24 L401.56,458.20 L402.57,458.15 L403.58,458.11 L404.59,458.06 L405.60,458.01 L406.62,457.96 L407.63,457.91 L408.64,457.86 L409.65,457.80 L410.66,457.75 L411.67,457.69 L412.69,457.63 L413.70,457.57 L414.71,457.51 L415.72,457.45 L416.73,457.39 L417.74,457.33 L418.76,457.26 L419.77,457.19 L420.78,457.12 L421.79,457.06 L422.80,456.98 L423.81,456.91 L424.83,456.84 L425.84,456.76 L426.85,456.69 L427.86,456.61 L428.87,456.53 L429.88,456.45 L430.90,456.37 L431.91,456.29 L432.92,456.20 L433.93,456.12 L434.94,456.03 L435.95,455.94 L436.97,455.85 L437.98,455.76 L438.99,455.67 L440.00,455.58 L441.01,455.48 L442.03,455.38 L443.04,455.29 L444.05,455.19 L445.06,455.09 L446.07,454.98 L447.08,454.88 L448.10,454.77 L449.11,454.67 L450.12,454.56 L451.13,454.45 L452.14,454.34 L453.15,454.23 L454.17,454.11 L455.18,454.00 L456.19,453.88 L457.20,453.76 L458.21,453.64 L459.22,453.52 L460.24,453.40 L461.25,453.27 L462.26,453.15 L463.27,453.02 L464.28,452.89 L465.29,452.76 L466.31,452.63 L467.32,452.49 L468.33,452.36 L469.34,452.22 L470.35,452.08 L471.36,451.94 L472.38,451.80 L473.39,451.66 L474.40,451.51 L475.41,451.37 L476.42,451.22 L477.44,451.07 L478.45,450.92 L479.46,450.76 L480.47,450.61 L481.48,450.45 L482.49,450.29 L483.51,450.13 L484.52,449.97 L485.53,449.81 L486.54,449.64 L487.55,449.48 L488.56,449.31 L489.58,449.14 L490.59,448.96 L491.60,448.79 L492.61,448.61 L493.62,448.44 L494.63,448.26 L495.65,448.07 L496.66,447.89 L497.67,447.70 L498.68,447.52 L499.69,447.33 L500.70,447.14 L501.72,446.94 L502.73,446.75 L503.74,446.55 L504.75,446.35 L505.76,446.15 L506.77,445.95 L507.79,445.75 L508.80,445.54 L509.81,445.33 L510.82,445.12 L511.83,444.91 L512.85,444.69 L513.86,444.47 L514.87,444.25 L515.88,444.03 L516.89,443.81 L517.90,443.58 L518.92,443.35 L519.93,443.12 L520.94,442.89 L521.95,442.66 L522.96,442.42 L523.97,442.18 L524.99,441.94 L526.00,441.70 L527.01,441.45 L528.02,441.20 L529.03,440.95 L530.04,440.70 L531.06,440.44 L532.07,440.18 L533.08,439.92 L534.09,439.66 L535.10,439.39 L536.11,439.12 L537.13,438.85 L538.14,438.58 L539.15,438.30 L540.16,438.03 L541.17,437.74 L542.18,437.46 L543.20,437.17 L544.21,436.88 L545.22,436.59 L546.23,436.30 L547.24,436.00 L548.26,435.70 L549.27,435.40 L550.28,435.09 L551.29,434.78 L552.30,434.47 L553.31,434.15 L554.33,433.84 L555.34,433.51 L556.35,433.19 L557.36,432.86 L558.37,432.53 L559.38,432.20 L560.40,431.86 L561.41,431.52 L562.42,431.18 L563.43,430.83 L564.44,430.48 L565.45,430.13 L566.47,429.77 L567.48,429.41 L568.49,429.05 L569.50,428.68 L570.51,428.31 L571.52,427.93 L572.54,427.56 L573.55,427.17 L574.56,426.79 L575.57,426.40 L576.58,426.01 L577.59,425.61 L578.61,425.21 L579.62,424.80 L580.63,424.40 L581.64,423.98 L582.65,423.57 L583.67,423.14 L584.68,422.72 L585.69,422.29 L586.70,421.86 L587.71,421.42 L588.72,420.97 L589.74,420.53 L590.75,420.08 L591.76,419.62 L592.77,419.16 L593.78,418.69 L594.79,418.22 L595.81,417.75 L596.82,417.27 L597.83,416.78 L598.84,416.29 L599.85,415.80 L600.86,415.29 L601.88,414.79 L602.89,414.28 L603.90,413.76 L604.91,413.24 L605.92,412.71 L606.93,412.18 L607.95,411.64 L608.96,411.10 L609.97,410.55 L610.98,409.99 L611.99,409.43 L613.00,408.86 L614.02,408.29 L615.03,407.70 L616.04,407.12 L617.05,406.52 L618.06,405.92 L619.08,405.32 L620.09,404.70 L621.10,404.08 L622.11,403.46 L623.12,402.82 L624.13,402.18 L625.15,401.53 L626.16,400.88 L627.17,400.21 L628.18,399.54 L629.19,398.86 L630.20,398.18 L631.22,397.48 L632.23,396.78 L633.24,396.07 L634.25,395.35 L635.26,394.63 L636.27,393.89 L637.29,393.15 L638.30,392.39 L639.31,391.63 L640.32,390.86 L641.33,390.08 L642.34,389.29 L643.36,388.50 L644.37,387.69 L645.38,386.87 L646.39,386.04 L647.40,385.21 L648.41,384.36 L649.43,383.50 L650.44,382.64 L651.45,381.76 L652.46,380.87 L653.47,379.97 L654.49,379.06 L655.50,378.14 L656.51,377.21 L657.52,376.27 L658.53,375.31 L659.54,374.35 L660.56,373.37 L661.57,372.39 L662.58,371.39 L663.59,370.38 L664.60,369.35 L665.61,368.32 L666.63,367.28 L667.64,366.22 L668.65,365.15 L669.66,364.07 L670.67,362.98 L671.68,361.88 L672.70,360.76 L673.71,359.64 L674.72,358.50 L675.73,357.36 L676.74,356.20 L677.75,355.03 L678.77,353.86 L679.78,352.67 L680.79,351.48 L681.80,350.27 L682.81,349.06 L683.82,347.85 L684.84,346.62 L685.85,345.39 L686.86,344.16 L687.87,342.93 L688.88,341.69 L689.90,340.45 L690.91,339.21 L691.92,337.98 L692.93,336.75 L693.94,335.52 L694.95,334.30 L695.97,333.10 L696.98,331.90 L697.99,330.72 L699.00,329.56 L700.01,328.42 L701.02,327.30 L702.04,326.20 L703.05,325.14 L704.06,324.11 L705.07,323.11 L706.08,322.16 L707.09,321.24 L708.11,320.38 L709.12,319.56 L710.13,318.80 L711.14,318.10 L712.15,317.45 L713.16,316.87 L714.18,316.36 L715.19,315.92 L716.20,315.54 L717.21,315.25 L718.22,315.02 L719.23,314.88 L720.25,314.81 L721.26,314.81 L722.27,314.90 L723.28,315.06 L724.29,315.30 L725.31,315.62 L726.32,316.01 L727.33,316.47 L728.34,317.00 L729.35,317.59 L730.36,318.25 L731.38,318.96 L732.39,319.74 L733.40,320.57 L734.41,321.44 L735.42,322.36 L736.43,323.33 L737.45,324.33 L738.46,325.37 L739.47,326.44 L740.48,327.54 L741.49,328.67 L742.50,329.81 L743.52,330.98 L744.53,332.16 L745.54,333.36 L746.55,334.57 L747.56,335.79 L748.57,337.02 L749.59,338.25 L750.60,339.48 L751.61,340.72 L752.62,341.96 L753.63,343.20 L754.64,344.43 L755.66,345.66 L756.67,346.89 L757.68,348.11 L758.69,349.33 L759.70,350.54 L760.72,351.74 L761.73,352.93 L762.74,354.12 L763.75,355.29 L764.76,356.45 L765.77,357.61 L766.79,358.75 L767.80,359.89 L768.81,361.01 L769.82,362.12 L770.83,363.22 L771.84,364.31 L772.86,365.39 L773.87,366.45 L774.88,367.51 L775.89,368.55 L776.90,369.58 L777.91,370.60 L778.93,371.61 L779.94,372.60 L780.95,373.59 L781.96,374.56 L782.97,375.52 L783.98,376.48 L785.00,377.42 L786.01,378.34 L787.02,379.26 L788.03,380.17 L789.04,381.07 L790.05,381.95 L791.07,382.83 L792.08,383.69 L793.09,384.55 L794.10,385.39 L795.11,386.23 L796.13,387.05 L797.14,387.87 L798.15,388.67 L799.16,389.47 L800.17,390.26 L801.18,391.03 L802.20,391.80 L803.21,392.56 L804.22,393.31 L805.23,394.05 L806.24,394.79 L807.25,395.51 L808.27,396.23 L809.28,396.94 L810.29,397.64 L811.30,398.33 L812.31,399.01 L813.32,399.69 L814.34,400.36 L815.35,401.02 L816.36,401.68 L817.37,402.32 L818.38,402.96 L819.39,403.60 L820.41,404.22 L821.42,404.84 L822.43,405.45 L823.44,406.06 L824.45,406.66 L825.46,407.25 L826.48,407.83 L827.49,408.41 L828.50,408.99" stroke="#ff6a38" stroke-width="2.7" stroke-dasharray="2.7 2.35 2.7 7.35" stroke-dashoffset="14.4"/>
<path d="M120.30,420.00 L121.31,420.55 L122.32,421.09 L123.34,421.63 L124.35,422.16 L125.36,422.69 L126.37,423.21 L127.38,423.73 L128.39,424.24 L129.41,424.74 L130.42,425.24 L131.43,425.74 L132.44,426.23 L133.45,426.71 L134.46,427.19 L135.48,427.67 L136.49,428.14 L137.50,428.60 L138.51,429.06 L139.52,429.52 L140.53,429.97 L141.55,430.42 L142.56,430.86 L143.57,431.30 L144.58,431.73 L145.59,432.16 L146.60,432.58 L147.62,433.00 L148.63,433.42 L149.64,433.83 L150.65,434.24 L151.66,434.65 L152.67,435.05 L153.69,435.44 L154.70,435.84 L155.71,436.23 L156.72,436.61 L157.73,436.99 L158.75,437.37 L159.76,437.74 L160.77,438.11 L161.78,438.48 L162.79,438.84 L163.80,439.20 L164.82,439.56 L165.83,439.91 L166.84,440.26 L167.85,440.61 L168.86,440.95 L169.87,441.29 L170.89,441.63 L171.90,441.96 L172.91,442.29 L173.92,442.62 L174.93,442.94 L175.94,443.26 L176.96,443.58 L177.97,443.90 L178.98,444.21 L179.99,444.52 L181.00,444.82 L182.01,445.13 L183.03,445.43 L184.04,445.73 L185.05,446.02 L186.06,446.31 L187.07,446.60 L188.08,446.89 L189.10,447.17 L190.11,447.45 L191.12,447.73 L192.13,448.01 L193.14,448.28 L194.16,448.55 L195.17,448.82 L196.18,449.08 L197.19,449.35 L198.20,449.61 L199.21,449.86 L200.23,450.12 L201.24,450.37 L202.25,450.62 L203.26,450.87 L204.27,451.12 L205.28,451.36 L206.30,451.60 L207.31,451.84 L208.32,452.08 L209.33,452.31 L210.34,452.55 L211.35,452.78 L212.37,453.00 L213.38,453.23 L214.39,453.45 L215.40,453.67 L216.41,453.89 L217.42,454.11 L218.44,454.33 L219.45,454.54 L220.46,454.75 L221.47,454.96 L222.48,455.16 L223.49,455.37 L224.51,455.57 L225.52,455.77 L226.53,455.97 L227.54,456.17 L228.55,456.36 L229.57,456.56 L230.58,456.75 L231.59,456.94 L232.60,457.12 L233.61,457.31 L234.62,457.49 L235.64,457.67 L236.65,457.85 L237.66,458.03 L238.67,458.21 L239.68,458.38 L240.69,458.55 L241.71,458.72 L242.72,458.89 L243.73,459.06 L244.74,459.22 L245.75,459.39 L246.76,459.55 L247.78,459.71 L248.79,459.87 L249.80,460.02 L250.81,460.18 L251.82,460.33 L252.83,460.48 L253.85,460.63 L254.86,460.78 L255.87,460.93 L256.88,461.07 L257.89,461.21 L258.90,461.36 L259.92,461.50 L260.93,461.63 L261.94,461.77 L262.95,461.91 L263.96,462.04 L264.98,462.17 L265.99,462.30 L267.00,462.43 L268.01,462.56 L269.02,462.68 L270.03,462.81 L271.05,462.93 L272.06,463.05 L273.07,463.17 L274.08,463.29 L275.09,463.41 L276.10,463.52 L277.12,463.64 L278.13,463.75 L279.14,463.86 L280.15,463.97 L281.16,464.08 L282.17,464.18 L283.19,464.29 L284.20,464.39 L285.21,464.50 L286.22,464.60 L287.23,464.70 L288.24,464.79 L289.26,464.89 L290.27,464.98 L291.28,465.08 L292.29,465.17 L293.30,465.26 L294.31,465.35 L295.33,465.44 L296.34,465.53 L297.35,465.61 L298.36,465.70 L299.37,465.78 L300.39,465.86 L301.40,465.94 L302.41,466.02 L303.42,466.10 L304.43,466.17 L305.44,466.25 L306.46,466.32 L307.47,466.39 L308.48,466.46 L309.49,466.53 L310.50,466.60 L311.51,466.67 L312.53,466.73 L313.54,466.80 L314.55,466.86 L315.56,466.92 L316.57,466.98 L317.58,467.04 L318.60,467.10 L319.61,467.15 L320.62,467.21 L321.63,467.26 L322.64,467.31 L323.65,467.37 L324.67,467.41 L325.68,467.46 L326.69,467.51 L327.70,467.56 L328.71,467.60 L329.72,467.65 L330.74,467.69 L331.75,467.73 L332.76,467.77 L333.77,467.81 L334.78,467.85 L335.80,467.88 L336.81,467.92 L337.82,467.95 L338.83,467.98 L339.84,468.01 L340.85,468.04 L341.87,468.07 L342.88,468.10 L343.89,468.13 L344.90,468.15 L345.91,468.17 L346.92,468.20 L347.94,468.22 L348.95,468.24 L349.96,468.26 L350.97,468.27 L351.98,468.29 L352.99,468.31 L354.01,468.32 L355.02,468.33 L356.03,468.34 L357.04,468.35 L358.05,468.36 L359.06,468.37 L360.08,468.38 L361.09,468.38 L362.10,468.39 L363.11,468.39 L364.12,468.39 L365.13,468.39 L366.15,468.39 L367.16,468.39 L368.17,468.39 L369.18,468.38 L370.19,468.38 L371.21,468.37 L372.22,468.36 L373.23,468.35 L374.24,468.34 L375.25,468.33 L376.26,468.32 L377.28,468.30 L378.29,468.29 L379.30,468.27 L380.31,468.26 L381.32,468.24 L382.33,468.22 L383.35,468.19 L384.36,468.17 L385.37,468.15 L386.38,468.12 L387.39,468.10 L388.40,468.07 L389.42,468.04 L390.43,468.01 L391.44,467.98 L392.45,467.95 L393.46,467.91 L394.47,467.88 L395.49,467.84 L396.50,467.80 L397.51,467.77 L398.52,467.73 L399.53,467.68 L400.54,467.64 L401.56,467.60 L402.57,467.55 L403.58,467.51 L404.59,467.46 L405.60,467.41 L406.62,467.36 L407.63,467.31 L408.64,467.26 L409.65,467.20 L410.66,467.15 L411.67,467.09 L412.69,467.03 L413.70,466.97 L414.71,466.91 L415.72,466.85 L416.73,466.79 L417.74,466.73 L418.76,466.66 L419.77,466.59 L420.78,466.52 L421.79,466.46 L422.80,466.38 L423.81,466.31 L424.83,466.24 L425.84,466.16 L426.85,466.09 L427.86,466.01 L428.87,465.93 L429.88,465.85 L430.90,465.77 L431.91,465.69 L432.92,465.60 L433.93,465.52 L434.94,465.43 L435.95,465.34 L436.97,465.25 L437.98,465.16 L438.99,465.07 L440.00,464.98 L441.01,464.88 L442.03,464.78 L443.04,464.69 L444.05,464.59 L445.06,464.49 L446.07,464.38 L447.08,464.28 L448.10,464.17 L449.11,464.07 L450.12,463.96 L451.13,463.85 L452.14,463.74 L453.15,463.63 L454.17,463.51 L455.18,463.40 L456.19,463.28 L457.20,463.16 L458.21,463.04 L459.22,462.92 L460.24,462.80 L461.25,462.67 L462.26,462.55 L463.27,462.42 L464.28,462.29 L465.29,462.16 L466.31,462.03 L467.32,461.89 L468.33,461.76 L469.34,461.62 L470.35,461.48 L471.36,461.34 L472.38,461.20 L473.39,461.06 L474.40,460.91 L475.41,460.77 L476.42,460.62 L477.44,460.47 L478.45,460.32 L479.46,460.16 L480.47,460.01 L481.48,459.85 L482.49,459.69 L483.51,459.53 L484.52,459.37 L485.53,459.21 L486.54,459.04 L487.55,458.88 L488.56,458.71 L489.58,458.54 L490.59,458.36 L491.60,458.19 L492.61,458.01 L493.62,457.84 L494.63,457.66 L495.65,457.47 L496.66,457.29 L497.67,457.10 L498.68,456.92 L499.69,456.73 L500.70,456.54 L501.72,456.34 L502.73,456.15 L503.74,455.95 L504.75,455.75 L505.76,455.55 L506.77,455.35 L507.79,455.15 L508.80,454.94 L509.81,454.73 L510.82,454.52 L511.83,454.31 L512.85,454.09 L513.86,453.87 L514.87,453.65 L515.88,453.43 L516.89,453.21 L517.90,452.98 L518.92,452.75 L519.93,452.52 L520.94,452.29 L521.95,452.06 L522.96,451.82 L523.97,451.58 L524.99,451.34 L526.00,451.10 L527.01,450.85 L528.02,450.60 L529.03,450.35 L530.04,450.10 L531.06,449.84 L532.07,449.58 L533.08,449.32 L534.09,449.06 L535.10,448.79 L536.11,448.52 L537.13,448.25 L538.14,447.98 L539.15,447.70 L540.16,447.43 L541.17,447.14 L542.18,446.86 L543.20,446.57 L544.21,446.28 L545.22,445.99 L546.23,445.70 L547.24,445.40 L548.26,445.10 L549.27,444.80 L550.28,444.49 L551.29,444.18 L552.30,443.87 L553.31,443.55 L554.33,443.24 L555.34,442.91 L556.35,442.59 L557.36,442.26 L558.37,441.93 L559.38,441.60 L560.40,441.26 L561.41,440.92 L562.42,440.58 L563.43,440.23 L564.44,439.88 L565.45,439.53 L566.47,439.17 L567.48,438.81 L568.49,438.45 L569.50,438.08 L570.51,437.71 L571.52,437.33 L572.54,436.96 L573.55,436.57 L574.56,436.19 L575.57,435.80 L576.58,435.41 L577.59,435.01 L578.61,434.61 L579.62,434.20 L580.63,433.80 L581.64,433.38 L582.65,432.97 L583.67,432.54 L584.68,432.12 L585.69,431.69 L586.70,431.26 L587.71,430.82 L588.72,430.37 L589.74,429.93 L590.75,429.48 L591.76,429.02 L592.77,428.56 L593.78,428.09 L594.79,427.62 L595.81,427.15 L596.82,426.67 L597.83,426.18 L598.84,425.69 L599.85,425.20 L600.86,424.69 L601.88,424.19 L602.89,423.68 L603.90,423.16 L604.91,422.64 L605.92,422.11 L606.93,421.58 L607.95,421.04 L608.96,420.50 L609.97,419.95 L610.98,419.39 L611.99,418.83 L613.00,418.26 L614.02,417.69 L615.03,417.10 L616.04,416.52 L617.05,415.92 L618.06,415.32 L619.08,414.72 L620.09,414.10 L621.10,413.48 L622.11,412.86 L623.12,412.22 L624.13,411.58 L625.15,410.93 L626.16,410.28 L627.17,409.61 L628.18,408.94 L629.19,408.26 L630.20,407.58 L631.22,406.88 L632.23,406.18 L633.24,405.47 L634.25,404.75 L635.26,404.03 L636.27,403.29 L637.29,402.55 L638.30,401.79 L639.31,401.03 L640.32,400.26 L641.33,399.48 L642.34,398.69 L643.36,397.90 L644.37,397.09 L645.38,396.27 L646.39,395.44 L647.40,394.61 L648.41,393.76 L649.43,392.90 L650.44,392.04 L651.45,391.16 L652.46,390.27 L653.47,389.37 L654.49,388.46 L655.50,387.54 L656.51,386.61 L657.52,385.67 L658.53,384.71 L659.54,383.75 L660.56,382.77 L661.57,381.79 L662.58,380.79 L663.59,379.78 L664.60,378.75 L665.61,377.72 L666.63,376.68 L667.64,375.62 L668.65,374.55 L669.66,373.47 L670.67,372.38 L671.68,371.28 L672.70,370.16 L673.71,369.04 L674.72,367.90 L675.73,366.76 L676.74,365.60 L677.75,364.43 L678.77,363.26 L679.78,362.07 L680.79,360.88 L681.80,359.67 L682.81,358.46 L683.82,357.25 L684.84,356.02 L685.85,354.79 L686.86,353.56 L687.87,352.33 L688.88,351.09 L689.90,349.85 L690.91,348.61 L691.92,347.38 L692.93,346.15 L693.94,344.92 L694.95,343.70 L695.97,342.50 L696.98,341.30 L697.99,340.12 L699.00,338.96 L700.01,337.82 L701.02,336.70 L702.04,335.60 L703.05,334.54 L704.06,333.51 L705.07,332.51 L706.08,331.56 L707.09,330.64 L708.11,329.78 L709.12,328.96 L710.13,328.20 L711.14,327.50 L712.15,326.85 L713.16,326.27 L714.18,325.76 L715.19,325.32 L716.20,324.94 L717.21,324.65 L718.22,324.42 L719.23,324.28 L720.25,324.21 L721.26,324.21 L722.27,324.30 L723.28,324.46 L724.29,324.70 L725.31,325.02 L726.32,325.41 L727.33,325.87 L728.34,326.40 L729.35,326.99 L730.36,327.65 L731.38,328.36 L732.39,329.14 L733.40,329.97 L734.41,330.84 L735.42,331.76 L736.43,332.73 L737.45,333.73 L738.46,334.77 L739.47,335.84 L740.48,336.94 L741.49,338.07 L742.50,339.21 L743.52,340.38 L744.53,341.56 L745.54,342.76 L746.55,343.97 L747.56,345.19 L748.57,346.42 L749.59,347.65 L750.60,348.88 L751.61,350.12 L752.62,351.36 L753.63,352.60 L754.64,353.83 L755.66,355.06 L756.67,356.29 L757.68,357.51 L758.69,358.73 L759.70,359.94 L760.72,361.14 L761.73,362.33 L762.74,363.52 L763.75,364.69 L764.76,365.85 L765.77,367.01 L766.79,368.15 L767.80,369.29 L768.81,370.41 L769.82,371.52 L770.83,372.62 L771.84,373.71 L772.86,374.79 L773.87,375.85 L774.88,376.91 L775.89,377.95 L776.90,378.98 L777.91,380.00 L778.93,381.01 L779.94,382.00 L780.95,382.99 L781.96,383.96 L782.97,384.92 L783.98,385.88 L785.00,386.82 L786.01,387.74 L787.02,388.66 L788.03,389.57 L789.04,390.47 L790.05,391.35 L791.07,392.23 L792.08,393.09 L793.09,393.95 L794.10,394.79 L795.11,395.63 L796.13,396.45 L797.14,397.27 L798.15,398.07 L799.16,398.87 L800.17,399.66 L801.18,400.43 L802.20,401.20 L803.21,401.96 L804.22,402.71 L805.23,403.45 L806.24,404.19 L807.25,404.91 L808.27,405.63 L809.28,406.34 L810.29,407.04 L811.30,407.73 L812.31,408.41 L813.32,409.09 L814.34,409.76 L815.35,410.42 L816.36,411.08 L817.37,411.72 L818.38,412.36 L819.39,413.00 L820.41,413.62 L821.42,414.24 L822.43,414.85 L823.44,415.46 L824.45,416.06 L825.46,416.65 L826.48,417.23 L827.49,417.81 L828.50,418.39" stroke="#00ff00" stroke-width="1.45" stroke-dasharray="2.9 4.7" stroke-dashoffset="1.1"/>
<path d="M120.30,430.10 L121.31,430.65 L122.32,431.19 L123.34,431.73 L124.35,432.26 L125.36,432.79 L126.37,433.31 L127.38,433.83 L128.39,434.34 L129.41,434.84 L130.42,435.34 L131.43,435.84 L132.44,436.33 L133.45,436.81 L134.46,437.29 L135.48,437.77 L136.49,438.24 L137.50,438.70 L138.51,439.16 L139.52,439.62 L140.53,440.07 L141.55,440.52 L142.56,440.96 L143.57,441.40 L144.58,441.83 L145.59,442.26 L146.60,442.68 L147.62,443.10 L148.63,443.52 L149.64,443.93 L150.65,444.34 L151.66,444.75 L152.67,445.15 L153.69,445.54 L154.70,445.94 L155.71,446.33 L156.72,446.71 L157.73,447.09 L158.75,447.47 L159.76,447.84 L160.77,448.21 L161.78,448.58 L162.79,448.94 L163.80,449.30 L164.82,449.66 L165.83,450.01 L166.84,450.36 L167.85,450.71 L168.86,451.05 L169.87,451.39 L170.89,451.73 L171.90,452.06 L172.91,452.39 L173.92,452.72 L174.93,453.04 L175.94,453.36 L176.96,453.68 L177.97,454.00 L178.98,454.31 L179.99,454.62 L181.00,454.92 L182.01,455.23 L183.03,455.53 L184.04,455.83 L185.05,456.12 L186.06,456.41 L187.07,456.70 L188.08,456.99 L189.10,457.27 L190.11,457.55 L191.12,457.83 L192.13,458.11 L193.14,458.38 L194.16,458.65 L195.17,458.92 L196.18,459.18 L197.19,459.45 L198.20,459.71 L199.21,459.96 L200.23,460.22 L201.24,460.47 L202.25,460.72 L203.26,460.97 L204.27,461.22 L205.28,461.46 L206.30,461.70 L207.31,461.94 L208.32,462.18 L209.33,462.41 L210.34,462.65 L211.35,462.88 L212.37,463.10 L213.38,463.33 L214.39,463.55 L215.40,463.77 L216.41,463.99 L217.42,464.21 L218.44,464.43 L219.45,464.64 L220.46,464.85 L221.47,465.06 L222.48,465.26 L223.49,465.47 L224.51,465.67 L225.52,465.87 L226.53,466.07 L227.54,466.27 L228.55,466.46 L229.57,466.66 L230.58,466.85 L231.59,467.04 L232.60,467.22 L233.61,467.41 L234.62,467.59 L235.64,467.77 L236.65,467.95 L237.66,468.13 L238.67,468.31 L239.68,468.48 L240.69,468.65 L241.71,468.82 L242.72,468.99 L243.73,469.16 L244.74,469.32 L245.75,469.49 L246.76,469.65 L247.78,469.81 L248.79,469.97 L249.80,470.12 L250.81,470.28 L251.82,470.43 L252.83,470.58 L253.85,470.73 L254.86,470.88 L255.87,471.03 L256.88,471.17 L257.89,471.31 L258.90,471.46 L259.92,471.60 L260.93,471.73 L261.94,471.87 L262.95,472.01 L263.96,472.14 L264.98,472.27 L265.99,472.40 L267.00,472.53 L268.01,472.66 L269.02,472.78 L270.03,472.91 L271.05,473.03 L272.06,473.15 L273.07,473.27 L274.08,473.39 L275.09,473.51 L276.10,473.62 L277.12,473.74 L278.13,473.85 L279.14,473.96 L280.15,474.07 L281.16,474.18 L282.17,474.28 L283.19,474.39 L284.20,474.49 L285.21,474.60 L286.22,474.70 L287.23,474.80 L288.24,474.89 L289.26,474.99 L290.27,475.08 L291.28,475.18 L292.29,475.27 L293.30,475.36 L294.31,475.45 L295.33,475.54 L296.34,475.63 L297.35,475.71 L298.36,475.80 L299.37,475.88 L300.39,475.96 L301.40,476.04 L302.41,476.12 L303.42,476.20 L304.43,476.27 L305.44,476.35 L306.46,476.42 L307.47,476.49 L308.48,476.56 L309.49,476.63 L310.50,476.70 L311.51,476.77 L312.53,476.83 L313.54,476.90 L314.55,476.96 L315.56,477.02 L316.57,477.08 L317.58,477.14 L318.60,477.20 L319.61,477.25 L320.62,477.31 L321.63,477.36 L322.64,477.41 L323.65,477.47 L324.67,477.51 L325.68,477.56 L326.69,477.61 L327.70,477.66 L328.71,477.70 L329.72,477.75 L330.74,477.79 L331.75,477.83 L332.76,477.87 L333.77,477.91 L334.78,477.95 L335.80,477.98 L336.81,478.02 L337.82,478.05 L338.83,478.08 L339.84,478.11 L340.85,478.14 L341.87,478.17 L342.88,478.20 L343.89,478.23 L344.90,478.25 L345.91,478.27 L346.92,478.30 L347.94,478.32 L348.95,478.34 L349.96,478.36 L350.97,478.37 L351.98,478.39 L352.99,478.41 L354.01,478.42 L355.02,478.43 L356.03,478.44 L357.04,478.45 L358.05,478.46 L359.06,478.47 L360.08,478.48 L361.09,478.48 L362.10,478.49 L363.11,478.49 L364.12,478.49 L365.13,478.49 L366.15,478.49 L367.16,478.49 L368.17,478.49 L369.18,478.48 L370.19,478.48 L371.21,478.47 L372.22,478.46 L373.23,478.45 L374.24,478.44 L375.25,478.43 L376.26,478.42 L377.28,478.40 L378.29,478.39 L379.30,478.37 L380.31,478.36 L381.32,478.34 L382.33,478.32 L383.35,478.29 L384.36,478.27 L385.37,478.25 L386.38,478.22 L387.39,478.20 L388.40,478.17 L389.42,478.14 L390.43,478.11 L391.44,478.08 L392.45,478.05 L393.46,478.01 L394.47,477.98 L395.49,477.94 L396.50,477.90 L397.51,477.87 L398.52,477.83 L399.53,477.78 L400.54,477.74 L401.56,477.70 L402.57,477.65 L403.58,477.61 L404.59,477.56 L405.60,477.51 L406.62,477.46 L407.63,477.41 L408.64,477.36 L409.65,477.30 L410.66,477.25 L411.67,477.19 L412.69,477.13 L413.70,477.07 L414.71,477.01 L415.72,476.95 L416.73,476.89 L417.74,476.83 L418.76,476.76 L419.77,476.69 L420.78,476.62 L421.79,476.56 L422.80,476.48 L423.81,476.41 L424.83,476.34 L425.84,476.26 L426.85,476.19 L427.86,476.11 L428.87,476.03 L429.88,475.95 L430.90,475.87 L431.91,475.79 L432.92,475.70 L433.93,475.62 L434.94,475.53 L435.95,475.44 L436.97,475.35 L437.98,475.26 L438.99,475.17 L440.00,475.08 L441.01,474.98 L442.03,474.88 L443.04,474.79 L444.05,474.69 L445.06,474.59 L446.07,474.48 L447.08,474.38 L448.10,474.27 L449.11,474.17 L450.12,474.06 L451.13,473.95 L452.14,473.84 L453.15,473.73 L454.17,473.61 L455.18,473.50 L456.19,473.38 L457.20,473.26 L458.21,473.14 L459.22,473.02 L460.24,472.90 L461.25,472.77 L462.26,472.65 L463.27,472.52 L464.28,472.39 L465.29,472.26 L466.31,472.13 L467.32,471.99 L468.33,471.86 L469.34,471.72 L470.35,471.58 L471.36,471.44 L472.38,471.30 L473.39,471.16 L474.40,471.01 L475.41,470.87 L476.42,470.72 L477.44,470.57 L478.45,470.42 L479.46,470.26 L480.47,470.11 L481.48,469.95 L482.49,469.79 L483.51,469.63 L484.52,469.47 L485.53,469.31 L486.54,469.14 L487.55,468.98 L488.56,468.81 L489.58,468.64 L490.59,468.46 L491.60,468.29 L492.61,468.11 L493.62,467.94 L494.63,467.76 L495.65,467.57 L496.66,467.39 L497.67,467.20 L498.68,467.02 L499.69,466.83 L500.70,466.64 L501.72,466.44 L502.73,466.25 L503.74,466.05 L504.75,465.85 L505.76,465.65 L506.77,465.45 L507.79,465.25 L508.80,465.04 L509.81,464.83 L510.82,464.62 L511.83,464.41 L512.85,464.19 L513.86,463.97 L514.87,463.75 L515.88,463.53 L516.89,463.31 L517.90,463.08 L518.92,462.85 L519.93,462.62 L520.94,462.39 L521.95,462.16 L522.96,461.92 L523.97,461.68 L524.99,461.44 L526.00,461.20 L527.01,460.95 L528.02,460.70 L529.03,460.45 L530.04,460.20 L531.06,459.94 L532.07,459.68 L533.08,459.42 L534.09,459.16 L535.10,458.89 L536.11,458.62 L537.13,458.35 L538.14,458.08 L539.15,457.80 L540.16,457.53 L541.17,457.24 L542.18,456.96 L543.20,456.67 L544.21,456.38 L545.22,456.09 L546.23,455.80 L547.24,455.50 L548.26,455.20 L549.27,454.90 L550.28,454.59 L551.29,454.28 L552.30,453.97 L553.31,453.65 L554.33,453.34 L555.34,453.01 L556.35,452.69 L557.36,452.36 L558.37,452.03 L559.38,451.70 L560.40,451.36 L561.41,451.02 L562.42,450.68 L563.43,450.33 L564.44,449.98 L565.45,449.63 L566.47,449.27 L567.48,448.91 L568.49,448.55 L569.50,448.18 L570.51,447.81 L571.52,447.43 L572.54,447.06 L573.55,446.67 L574.56,446.29 L575.57,445.90 L576.58,445.51 L577.59,445.11 L578.61,444.71 L579.62,444.30 L580.63,443.90 L581.64,443.48 L582.65,443.07 L583.67,442.64 L584.68,442.22 L585.69,441.79 L586.70,441.36 L587.71,440.92 L588.72,440.47 L589.74,440.03 L590.75,439.58 L591.76,439.12 L592.77,438.66 L593.78,438.19 L594.79,437.72 L595.81,437.25 L596.82,436.77 L597.83,436.28 L598.84,435.79 L599.85,435.30 L600.86,434.79 L601.88,434.29 L602.89,433.78 L603.90,433.26 L604.91,432.74 L605.92,432.21 L606.93,431.68 L607.95,431.14 L608.96,430.60 L609.97,430.05 L610.98,429.49 L611.99,428.93 L613.00,428.36 L614.02,427.79 L615.03,427.20 L616.04,426.62 L617.05,426.02 L618.06,425.42 L619.08,424.82 L620.09,424.20 L621.10,423.58 L622.11,422.96 L623.12,422.32 L624.13,421.68 L625.15,421.03 L626.16,420.38 L627.17,419.71 L628.18,419.04 L629.19,418.36 L630.20,417.68 L631.22,416.98 L632.23,416.28 L633.24,415.57 L634.25,414.85 L635.26,414.13 L636.27,413.39 L637.29,412.65 L638.30,411.89 L639.31,411.13 L640.32,410.36 L641.33,409.58 L642.34,408.79 L643.36,408.00 L644.37,407.19 L645.38,406.37 L646.39,405.54 L647.40,404.71 L648.41,403.86 L649.43,403.00 L650.44,402.14 L651.45,401.26 L652.46,400.37 L653.47,399.47 L654.49,398.56 L655.50,397.64 L656.51,396.71 L657.52,395.77 L658.53,394.81 L659.54,393.85 L660.56,392.87 L661.57,391.89 L662.58,390.89 L663.59,389.88 L664.60,388.85 L665.61,387.82 L666.63,386.78 L667.64,385.72 L668.65,384.65 L669.66,383.57 L670.67,382.48 L671.68,381.38 L672.70,380.26 L673.71,379.14 L674.72,378.00 L675.73,376.86 L676.74,375.70 L677.75,374.53 L678.77,373.36 L679.78,372.17 L680.79,370.98 L681.80,369.77 L682.81,368.56 L683.82,367.35 L684.84,366.12 L685.85,364.89 L686.86,363.66 L687.87,362.43 L688.88,361.19 L689.90,359.95 L690.91,358.71 L691.92,357.48 L692.93,356.25 L693.94,355.02 L694.95,353.80 L695.97,352.60 L696.98,351.40 L697.99,350.22 L699.00,349.06 L700.01,347.92 L701.02,346.80 L702.04,345.70 L703.05,344.64 L704.06,343.61 L705.07,342.61 L706.08,341.66 L707.09,340.74 L708.11,339.88 L709.12,339.06 L710.13,338.30 L711.14,337.60 L712.15,336.95 L713.16,336.37 L714.18,335.86 L715.19,335.42 L716.20,335.04 L717.21,334.75 L718.22,334.52 L719.23,334.38 L720.25,334.31 L721.26,334.31 L722.27,334.40 L723.28,334.56 L724.29,334.80 L725.31,335.12 L726.32,335.51 L727.33,335.97 L728.34,336.50 L729.35,337.09 L730.36,337.75 L731.38,338.46 L732.39,339.24 L733.40,340.07 L734.41,340.94 L735.42,341.86 L736.43,342.83 L737.45,343.83 L738.46,344.87 L739.47,345.94 L740.48,347.04 L741.49,348.17 L742.50,349.31 L743.52,350.48 L744.53,351.66 L745.54,352.86 L746.55,354.07 L747.56,355.29 L748.57,356.52 L749.59,357.75 L750.60,358.98 L751.61,360.22 L752.62,361.46 L753.63,362.70 L754.64,363.93 L755.66,365.16 L756.67,366.39 L757.68,367.61 L758.69,368.83 L759.70,370.04 L760.72,371.24 L761.73,372.43 L762.74,373.62 L763.75,374.79 L764.76,375.95 L765.77,377.11 L766.79,378.25 L767.80,379.39 L768.81,380.51 L769.82,381.62 L770.83,382.72 L771.84,383.81 L772.86,384.89 L773.87,385.95 L774.88,387.01 L775.89,388.05 L776.90,389.08 L777.91,390.10 L778.93,391.11 L779.94,392.10 L780.95,393.09 L781.96,394.06 L782.97,395.02 L783.98,395.98 L785.00,396.92 L786.01,397.84 L787.02,398.76 L788.03,399.67 L789.04,400.57 L790.05,401.45 L791.07,402.33 L792.08,403.19 L793.09,404.05 L794.10,404.89 L795.11,405.73 L796.13,406.55 L797.14,407.37 L798.15,408.17 L799.16,408.97 L800.17,409.76 L801.18,410.53 L802.20,411.30 L803.21,412.06 L804.22,412.81 L805.23,413.55 L806.24,414.29 L807.25,415.01 L808.27,415.73 L809.28,416.44 L810.29,417.14 L811.30,417.83 L812.31,418.51 L813.32,419.19 L814.34,419.86 L815.35,420.52 L816.36,421.18 L817.37,421.82 L818.38,422.46 L819.39,423.10 L820.41,423.72 L821.42,424.34 L822.43,424.95 L823.44,425.56 L824.45,426.16 L825.46,426.75 L826.48,427.33 L827.49,427.91 L828.50,428.49" stroke="#ff0000" stroke-width="2.7"/>
</g>
<g fill="none">
<path d="M236.00,26.55h45" stroke="#006400" stroke-width="2.7" stroke-dasharray="8.0 2.05 1.75 2.05 1.75 2.05" stroke-dashoffset="14.05"/>
<path d="M236.00,56.95h45" stroke="#ff00ff" stroke-width="2.7" stroke-dasharray="2.7 2.3 2.7 2.3 2.7 2.3 2.7 4.9" stroke-dashoffset="0"/>
<path d="M353.00,26.55h45" stroke="#ffa500" stroke-width="2.7" stroke-dasharray="4.2 3.5 1.6 3.45" stroke-dashoffset="0"/>
<path d="M353.00,56.95h45" stroke="#bebebe" stroke-width="2.7" stroke-dasharray="7.95 2.3 1.4 2.2" stroke-dashoffset="0"/>
<path d="M470.00,26.55h45" stroke="#8b0000" stroke-width="2.7" stroke-dasharray="1.75 1.43" stroke-dashoffset="0"/>
<path d="M470.00,56.95h45" stroke="#000000" stroke-width="2.7" stroke-dasharray="3.0 3.33" stroke-dashoffset="0"/>
<path d="M587.00,26.55h45" stroke="#0000ff" stroke-width="2.7" stroke-dasharray="5.6 2.0" stroke-dashoffset="0"/>
<path d="M587.00,56.95h45" stroke="#ff6a38" stroke-width="2.7" stroke-dasharray="2.7 2.35 2.7 7.35" stroke-dashoffset="0"/>
<path d="M704.00,26.55h45" stroke="#00ff00" stroke-width="1.45" stroke-dasharray="2.9 4.7" stroke-dashoffset="0"/>
<path d="M704.00,56.95h45" stroke="#ff0000" stroke-width="2.7"/>
</g>
<g font-family="'Liberation Sans', sans-serif" fill="#000" stroke="#000" stroke-width="0.3" stroke-linejoin="round">
<text transform="translate(218.10,34.15) scale(1,1.070)" font-size="22.8" text-anchor="end">O</text>
<path d="M210.9,30.3L216.3,34.3" stroke="#000" stroke-width="2.1" fill="none"/>
<text transform="translate(218.10,64.55) scale(1,1.070)" font-size="22.8" text-anchor="end">N</text>
<text transform="translate(335.10,34.15) scale(1,1.070)" font-size="22.8" text-anchor="end">M</text>
<text transform="translate(335.10,64.55) scale(1,1.070)" font-size="22.8" text-anchor="end">L</text>
<text transform="translate(452.10,34.15) scale(1,1.070)" font-size="22.8" text-anchor="end">Ks</text>
<text transform="translate(452.10,64.55) scale(1,1.070)" font-size="22.8" text-anchor="end">H</text>
<text transform="translate(569.20,34.15) scale(1,1.070)" font-size="22.8" text-anchor="end">J</text>
<text transform="translate(569.20,64.55) scale(1,1.070)" font-size="22.8" text-anchor="end">I</text>
<text transform="translate(686.30,34.15) scale(1,1.070)" font-size="22.8" text-anchor="end">R</text>
<text transform="translate(686.30,64.55) scale(1,1.070)" font-size="22.8" text-anchor="end">V</text>
<text transform="translate(101.80,37.10)" font-size="30.25" text-anchor="end">5</text>
<text transform="translate(101.80,156.85)" font-size="30.25" text-anchor="end">10</text>
<text transform="translate(101.80,276.60)" font-size="30.25" text-anchor="end">15</text>
<text transform="translate(101.80,396.35)" font-size="30.25" text-anchor="end">20</text>
<text transform="translate(101.80,516.10)" font-size="30.25" text-anchor="end">25</text>
<text transform="translate(124.10,547.40)" font-size="30.25" text-anchor="middle">0</text>
<text transform="translate(276.62,547.40)" font-size="30.25" text-anchor="middle">4000</text>
<text transform="translate(429.13,547.40)" font-size="30.25" text-anchor="middle">8000</text>
<text transform="translate(581.65,547.40)" font-size="30.25" text-anchor="middle">12000</text>
<text transform="translate(734.16,547.40)" font-size="30.25" text-anchor="middle">16000</text>
<text transform="translate(415.67,592.60) scale(1,1.050)" font-size="30.0" text-anchor="start">T</text>
<text transform="translate(434.00,592.60)" font-size="30.0" text-anchor="start">ime [yr]</text>
<text transform="translate(24.30,391.72) rotate(-90) scale(1,1.050)" font-size="30.25" text-anchor="start">A</text>
<text transform="translate(24.30,371.54) rotate(-90)" font-size="30.25" text-anchor="start">pparent magnitude</text>
</g>
</svg>
</body></html>
